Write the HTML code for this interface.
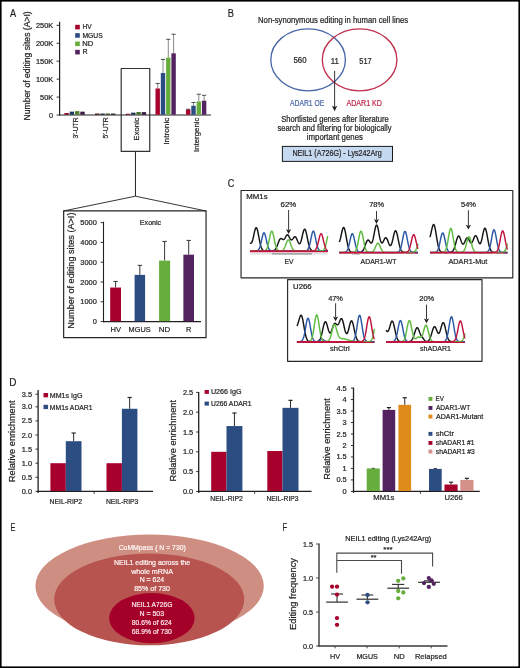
<!DOCTYPE html>
<html><head><meta charset="utf-8"><title>Figure</title>
<style>
html,body{margin:0;padding:0;background:#fff;}
body{width:520px;height:668px;overflow:hidden;}
svg{display:block;filter:blur(0.5px);}
text{font-family:"Liberation Sans", sans-serif;}
</style></head><body>
<svg width="520" height="668" viewBox="0 0 520 668">
<rect width="520" height="668" fill="#fff"/>
<text x="9.88" y="16.80" font-size="11.6" textLength="6.14" lengthAdjust="spacingAndGlyphs" fill="#231f20" stroke="#231f20" stroke-width="0.22">A</text>
<line x1="59.60" y1="21.80" x2="59.60" y2="115.55" stroke="#231f20" stroke-width="1.2"/>
<line x1="59.10" y1="115.05" x2="210.90" y2="115.05" stroke="#231f20" stroke-width="1.1"/>
<line x1="56.60" y1="115.05" x2="59.60" y2="115.05" stroke="#231f20" stroke-width="0.9"/>
<text x="53.20" y="117.65" font-size="7.4" text-anchor="end" fill="#231f20" stroke="#231f20" stroke-width="0.22">0</text>
<line x1="56.60" y1="97.10" x2="59.60" y2="97.10" stroke="#231f20" stroke-width="0.9"/>
<text x="53.20" y="99.70" font-size="7.4" text-anchor="end" fill="#231f20" stroke="#231f20" stroke-width="0.22">50K</text>
<line x1="56.60" y1="79.15" x2="59.60" y2="79.15" stroke="#231f20" stroke-width="0.9"/>
<text x="53.20" y="81.75" font-size="7.4" text-anchor="end" fill="#231f20" stroke="#231f20" stroke-width="0.22">100K</text>
<line x1="56.60" y1="61.20" x2="59.60" y2="61.20" stroke="#231f20" stroke-width="0.9"/>
<text x="53.20" y="63.80" font-size="7.4" text-anchor="end" fill="#231f20" stroke="#231f20" stroke-width="0.22">150K</text>
<line x1="56.60" y1="43.25" x2="59.60" y2="43.25" stroke="#231f20" stroke-width="0.9"/>
<text x="53.20" y="45.85" font-size="7.4" text-anchor="end" fill="#231f20" stroke="#231f20" stroke-width="0.22">200K</text>
<line x1="56.60" y1="25.30" x2="59.60" y2="25.30" stroke="#231f20" stroke-width="0.9"/>
<text x="53.20" y="27.90" font-size="7.4" text-anchor="end" fill="#231f20" stroke="#231f20" stroke-width="0.22">250K</text>
<text x="30.00" y="120.51" font-size="8.6" textLength="109.24" lengthAdjust="spacingAndGlyphs" fill="#231f20" stroke="#231f20" stroke-width="0.22" transform="rotate(-90 30.00 120.51)">Number of editing sites (A&gt;I)</text>
<rect x="75.20" y="24.80" width="4.60" height="4.60" fill="#a8002c"/>
<text x="82.46" y="28.90" font-size="7.2" textLength="9.17" lengthAdjust="spacingAndGlyphs" fill="#231f20" stroke="#231f20" stroke-width="0.22">HV</text>
<rect x="75.20" y="33.15" width="4.60" height="4.60" fill="#2c4d82"/>
<text x="82.45" y="37.55" font-size="7.2" textLength="20.26" lengthAdjust="spacingAndGlyphs" fill="#231f20" stroke="#231f20" stroke-width="0.22">MGUS</text>
<rect x="75.20" y="41.50" width="4.60" height="4.60" fill="#66ad3e"/>
<text x="82.38" y="45.90" font-size="7.2" textLength="10.99" lengthAdjust="spacingAndGlyphs" fill="#231f20" stroke="#231f20" stroke-width="0.22">ND</text>
<rect x="75.20" y="49.85" width="4.60" height="4.60" fill="#52235f"/>
<text x="82.42" y="54.25" font-size="7.2" textLength="5.11" lengthAdjust="spacingAndGlyphs" fill="#231f20" stroke="#231f20" stroke-width="0.22">R</text>
<rect x="64.40" y="113.05" width="4.40" height="1.70" fill="#7e0021"/>
<rect x="69.70" y="111.65" width="4.40" height="3.10" fill="#213961"/>
<rect x="75.00" y="111.15" width="4.40" height="3.60" fill="#4c812e"/>
<rect x="80.30" y="111.65" width="4.40" height="3.10" fill="#3d1a47"/>
<rect x="95.00" y="113.55" width="4.40" height="1.20" fill="#430011"/>
<rect x="100.30" y="113.55" width="4.40" height="1.20" fill="#111e34"/>
<rect x="105.60" y="113.55" width="4.40" height="1.20" fill="#284518"/>
<rect x="110.90" y="113.55" width="4.40" height="1.20" fill="#200e26"/>
<rect x="125.80" y="113.75" width="4.40" height="1.00" fill="#6d001c"/>
<rect x="131.10" y="112.65" width="4.40" height="2.10" fill="#1c3254"/>
<rect x="136.40" y="112.05" width="4.40" height="2.70" fill="#427028"/>
<rect x="141.70" y="112.15" width="4.40" height="2.60" fill="#35163d"/>
<line x1="157.70" y1="88.48" x2="157.70" y2="83.46" stroke="#7a7a7a" stroke-width="0.9"/>
<line x1="155.60" y1="83.46" x2="159.80" y2="83.46" stroke="#3a3a3a" stroke-width="0.9"/>
<rect x="155.50" y="88.48" width="4.40" height="26.27" fill="#a8002c"/>
<line x1="163.00" y1="73.05" x2="163.00" y2="59.41" stroke="#7a7a7a" stroke-width="0.9"/>
<line x1="160.90" y1="59.41" x2="165.10" y2="59.41" stroke="#3a3a3a" stroke-width="0.9"/>
<rect x="160.80" y="73.05" width="4.40" height="41.70" fill="#2c4d82"/>
<line x1="168.30" y1="57.61" x2="168.30" y2="39.30" stroke="#7a7a7a" stroke-width="0.9"/>
<line x1="166.20" y1="39.30" x2="170.40" y2="39.30" stroke="#3a3a3a" stroke-width="0.9"/>
<rect x="166.10" y="57.61" width="4.40" height="57.14" fill="#66ad3e"/>
<line x1="173.60" y1="53.30" x2="173.60" y2="34.28" stroke="#7a7a7a" stroke-width="0.9"/>
<line x1="171.50" y1="34.28" x2="175.70" y2="34.28" stroke="#3a3a3a" stroke-width="0.9"/>
<rect x="171.40" y="53.30" width="4.40" height="61.45" fill="#52235f"/>
<line x1="188.20" y1="109.66" x2="188.20" y2="109.31" stroke="#7a7a7a" stroke-width="0.9"/>
<line x1="186.10" y1="109.31" x2="190.30" y2="109.31" stroke="#3a3a3a" stroke-width="0.9"/>
<rect x="186.00" y="109.66" width="4.40" height="5.09" fill="#a8002c"/>
<line x1="193.50" y1="105.72" x2="193.50" y2="102.48" stroke="#7a7a7a" stroke-width="0.9"/>
<line x1="191.40" y1="102.48" x2="195.60" y2="102.48" stroke="#3a3a3a" stroke-width="0.9"/>
<rect x="191.30" y="105.72" width="4.40" height="9.03" fill="#2c4d82"/>
<line x1="198.80" y1="101.41" x2="198.80" y2="94.23" stroke="#7a7a7a" stroke-width="0.9"/>
<line x1="196.70" y1="94.23" x2="200.90" y2="94.23" stroke="#3a3a3a" stroke-width="0.9"/>
<rect x="196.60" y="101.41" width="4.40" height="13.34" fill="#66ad3e"/>
<line x1="204.10" y1="100.69" x2="204.10" y2="95.30" stroke="#7a7a7a" stroke-width="0.9"/>
<line x1="202.00" y1="95.30" x2="206.20" y2="95.30" stroke="#3a3a3a" stroke-width="0.9"/>
<rect x="201.90" y="100.69" width="4.40" height="14.06" fill="#52235f"/>
<text x="78.20" y="138.56" font-size="7.8" textLength="21.07" lengthAdjust="spacingAndGlyphs" fill="#231f20" stroke="#231f20" stroke-width="0.22" transform="rotate(-90 78.20 138.56)">3′-UTR</text>
<text x="108.30" y="138.57" font-size="7.8" textLength="21.08" lengthAdjust="spacingAndGlyphs" fill="#231f20" stroke="#231f20" stroke-width="0.22" transform="rotate(-90 108.30 138.57)">5′-UTR</text>
<text x="139.00" y="140.42" font-size="7.8" textLength="22.82" lengthAdjust="spacingAndGlyphs" fill="#231f20" stroke="#231f20" stroke-width="0.22" transform="rotate(-90 139.00 140.42)">Exonic</text>
<text x="169.00" y="144.76" font-size="7.8" textLength="27.18" lengthAdjust="spacingAndGlyphs" fill="#231f20" stroke="#231f20" stroke-width="0.22" transform="rotate(-90 169.00 144.76)">Intronic</text>
<text x="199.50" y="152.02" font-size="7.8" textLength="34.43" lengthAdjust="spacingAndGlyphs" fill="#231f20" stroke="#231f20" stroke-width="0.22" transform="rotate(-90 199.50 152.02)">Intergenic</text>
<line x1="135.45" y1="151.40" x2="135.45" y2="196.20" stroke="#231f20" stroke-width="1.0"/>
<polyline points="63.3,211 135.45,196.2 206.1,211" fill="none" stroke="#231f20" stroke-width="0.9"/>
<path d="M63.65,210.95 H206.05 V337.70 H63.65 Z" fill="none" stroke="#262626" stroke-width="1.2" stroke-linejoin="round"/>
<path d="M121.20,68.50 H149.75 V151.40 H121.20 Z" fill="none" stroke="#333" stroke-width="1.2" stroke-linejoin="round"/>
<line x1="103.50" y1="221.80" x2="103.50" y2="322.10" stroke="#231f20" stroke-width="1.1"/>
<line x1="103.00" y1="321.60" x2="201.00" y2="321.60" stroke="#231f20" stroke-width="1.1"/>
<line x1="100.60" y1="321.60" x2="103.50" y2="321.60" stroke="#231f20" stroke-width="0.9"/>
<text x="96.80" y="324.10" font-size="7.4" text-anchor="end" fill="#231f20" stroke="#231f20" stroke-width="0.22">0</text>
<line x1="100.60" y1="301.80" x2="103.50" y2="301.80" stroke="#231f20" stroke-width="0.9"/>
<text x="96.80" y="304.30" font-size="7.4" text-anchor="end" fill="#231f20" stroke="#231f20" stroke-width="0.22">1000</text>
<line x1="100.60" y1="282.00" x2="103.50" y2="282.00" stroke="#231f20" stroke-width="0.9"/>
<text x="96.80" y="284.50" font-size="7.4" text-anchor="end" fill="#231f20" stroke="#231f20" stroke-width="0.22">2000</text>
<line x1="100.60" y1="262.20" x2="103.50" y2="262.20" stroke="#231f20" stroke-width="0.9"/>
<text x="96.80" y="264.70" font-size="7.4" text-anchor="end" fill="#231f20" stroke="#231f20" stroke-width="0.22">3000</text>
<line x1="100.60" y1="242.40" x2="103.50" y2="242.40" stroke="#231f20" stroke-width="0.9"/>
<text x="96.80" y="244.90" font-size="7.4" text-anchor="end" fill="#231f20" stroke="#231f20" stroke-width="0.22">4000</text>
<line x1="100.60" y1="222.60" x2="103.50" y2="222.60" stroke="#231f20" stroke-width="0.9"/>
<text x="96.80" y="225.10" font-size="7.4" text-anchor="end" fill="#231f20" stroke="#231f20" stroke-width="0.22">5000</text>
<text x="74.00" y="328.65" font-size="8.7" textLength="116.12" lengthAdjust="spacingAndGlyphs" fill="#231f20" stroke="#231f20" stroke-width="0.22" transform="rotate(-90 74.00 328.65)">Number of editing sites (A&gt;I)</text>
<text x="139.87" y="224.60" font-size="7.2" textLength="21.27" lengthAdjust="spacingAndGlyphs" fill="#231f20" stroke="#231f20" stroke-width="0.22">Exonic</text>
<line x1="115.60" y1="287.54" x2="115.60" y2="281.41" stroke="#231f20" stroke-width="0.9"/>
<line x1="113.40" y1="281.41" x2="117.80" y2="281.41" stroke="#231f20" stroke-width="0.9"/>
<rect x="110.20" y="287.54" width="10.80" height="33.66" fill="#a8002c"/>
<line x1="139.85" y1="274.87" x2="139.85" y2="265.37" stroke="#231f20" stroke-width="0.9"/>
<line x1="137.65" y1="265.37" x2="142.05" y2="265.37" stroke="#231f20" stroke-width="0.9"/>
<rect x="134.60" y="274.87" width="10.50" height="46.33" fill="#2c4d82"/>
<line x1="164.60" y1="260.62" x2="164.60" y2="241.41" stroke="#231f20" stroke-width="0.9"/>
<line x1="162.40" y1="241.41" x2="166.80" y2="241.41" stroke="#231f20" stroke-width="0.9"/>
<rect x="159.10" y="260.62" width="11.00" height="60.58" fill="#66ad3e"/>
<line x1="188.70" y1="254.68" x2="188.70" y2="240.42" stroke="#231f20" stroke-width="0.9"/>
<line x1="186.50" y1="240.42" x2="190.90" y2="240.42" stroke="#231f20" stroke-width="0.9"/>
<rect x="183.40" y="254.68" width="10.60" height="66.52" fill="#52235f"/>
<text x="110.48" y="331.50" font-size="7.8" textLength="10.45" lengthAdjust="spacingAndGlyphs" fill="#231f20" stroke="#231f20" stroke-width="0.22">HV</text>
<text x="128.60" y="331.50" font-size="7.8" textLength="22.04" lengthAdjust="spacingAndGlyphs" fill="#231f20" stroke="#231f20" stroke-width="0.22">MGUS</text>
<text x="158.85" y="331.50" font-size="7.8" textLength="11.43" lengthAdjust="spacingAndGlyphs" fill="#231f20" stroke="#231f20" stroke-width="0.22">ND</text>
<text x="186.09" y="331.50" font-size="7.8" textLength="5.35" lengthAdjust="spacingAndGlyphs" fill="#231f20" stroke="#231f20" stroke-width="0.22">R</text>
<text x="227.69" y="16.70" font-size="11.6" textLength="6.14" lengthAdjust="spacingAndGlyphs" fill="#231f20" stroke="#231f20" stroke-width="0.22">B</text>
<text x="258.07" y="23.00" font-size="8.2" textLength="150.11" lengthAdjust="spacingAndGlyphs" fill="#231f20" stroke="#231f20" stroke-width="0.22">Non-synonymous editing in human cell lines</text>
<ellipse cx="308.1" cy="59.8" rx="37.3" ry="31.0" fill="none" stroke="#4a68a8" stroke-width="1.35"/>
<ellipse cx="359.6" cy="59.8" rx="37.3" ry="31.0" fill="none" stroke="#c0304f" stroke-width="1.35"/>
<text x="293.49" y="62.70" font-size="8.4" textLength="13.02" lengthAdjust="spacingAndGlyphs" fill="#231f20" stroke="#231f20" stroke-width="0.22">560</text>
<text x="330.64" y="63.80" font-size="8.4" textLength="8.22" lengthAdjust="spacingAndGlyphs" fill="#231f20" stroke="#231f20" stroke-width="0.22">11</text>
<text x="359.30" y="63.80" font-size="8.4" textLength="12.37" lengthAdjust="spacingAndGlyphs" fill="#231f20" stroke="#231f20" stroke-width="0.22">517</text>
<line x1="334.60" y1="70.80" x2="334.60" y2="107.00" stroke="#231f20" stroke-width="0.9"/>
<path d="M331.9,105.8 L334.6,107.0 L337.3,105.8 L334.6,111.3 Z" fill="#231f20"/>
<text x="289.99" y="106.40" font-size="8.5" textLength="34.20" lengthAdjust="spacingAndGlyphs" fill="#4a68a8" stroke="#4a68a8" stroke-width="0.22">ADAR1 OE</text>
<text x="346.49" y="106.40" font-size="8.5" textLength="35.45" lengthAdjust="spacingAndGlyphs" fill="#c0284c" stroke="#c0284c" stroke-width="0.22">ADAR1 KD</text>
<text x="281.16" y="121.50" font-size="8.3" textLength="107.68" lengthAdjust="spacingAndGlyphs" fill="#231f20" stroke="#231f20" stroke-width="0.22">Shortlisted genes after literature</text>
<text x="277.59" y="130.60" font-size="8.3" textLength="113.93" lengthAdjust="spacingAndGlyphs" fill="#231f20" stroke="#231f20" stroke-width="0.22">search and filtering for biologically</text>
<text x="306.78" y="139.50" font-size="8.3" textLength="56.21" lengthAdjust="spacingAndGlyphs" fill="#231f20" stroke="#231f20" stroke-width="0.22">important genes</text>
<rect x="282.40" y="146.40" width="110.10" height="15.00" fill="#c5d9f1" stroke="#1a1a1a" stroke-width="1.0"/>
<text x="292.41" y="156.40" font-size="8.6" textLength="89.25" lengthAdjust="spacingAndGlyphs" fill="#231f20" stroke="#231f20" stroke-width="0.22">NEIL1 (A726G) - Lys242Arg</text>
<text x="227.64" y="187.10" font-size="11.6" textLength="6.50" lengthAdjust="spacingAndGlyphs" fill="#231f20" stroke="#231f20" stroke-width="0.22">C</text>
<path d="M241.05,190.45 H512.80 V277.80 H241.05 Z" fill="none" stroke="#262626" stroke-width="1.15" stroke-linejoin="round"/>
<text x="246.36" y="199.40" font-size="7.2" textLength="21.22" lengthAdjust="spacingAndGlyphs" fill="#231f20" stroke="#231f20" stroke-width="0.22">MM1s</text>
<path d="M287.60,279.60 H482.00 V361.30 H287.60 Z" fill="none" stroke="#262626" stroke-width="1.15" stroke-linejoin="round"/>
<text x="293.10" y="289.20" font-size="7.2" textLength="18.54" lengthAdjust="spacingAndGlyphs" fill="#231f20" stroke="#231f20" stroke-width="0.22">U266</text>
<line x1="250.00" y1="253.90" x2="327.70" y2="253.90" stroke="#cfd3d3" stroke-width="1.0"/>
<line x1="271.90" y1="253.90" x2="312.00" y2="253.90" stroke="#8c9090" stroke-width="1.4"/>
<polyline points="250.0,242.95 250.4,243.19 250.8,243.26 251.2,243.12 251.6,242.69 252.0,241.94 252.4,240.87 252.8,239.49 253.2,237.86 253.6,236.05 254.0,234.16 254.4,232.31 254.8,230.62 255.2,229.23 255.6,228.23 256.0,227.70 256.4,227.70 256.8,228.23 257.2,229.26 257.6,230.71 258.0,232.51 258.4,234.54 258.8,236.68 259.2,238.84 259.6,240.91 260.0,242.82 260.4,244.52 260.8,245.99 261.2,247.21 261.6,248.21 262.0,248.99 262.4,249.58 262.8,250.03 263.1,250.35 263.5,250.57 263.9,250.72 264.3,250.83 264.7,250.89 265.1,250.94 265.5,250.96 265.9,250.98 266.3,250.99 266.7,250.99 267.1,251.00 267.5,251.00 267.9,251.00 268.3,251.00 268.7,251.00 269.1,251.00 269.5,251.00 269.9,250.99 270.3,250.99 270.7,250.98 271.1,250.98 271.5,250.96 271.9,250.94 272.3,250.91 272.7,250.85 273.1,250.78 273.5,250.66 273.9,250.51 274.3,250.29 274.7,249.99 275.1,249.61 275.5,249.12 275.9,248.51 276.3,247.78 276.7,246.94 277.1,245.98 277.5,244.94 277.9,243.84 278.3,242.74 278.7,241.67 279.1,240.70 279.5,239.87 279.9,239.22 280.3,238.78 280.7,238.54 281.1,238.51 281.5,238.63 281.9,238.87 282.3,239.15 282.7,239.41 283.1,239.58 283.5,239.61 283.9,239.47 284.3,239.13 284.7,238.62 285.1,237.97 285.5,237.24 285.9,236.50 286.3,235.82 286.7,235.27 287.1,234.92 287.5,234.79 287.9,234.92 288.3,235.28 288.7,235.84 289.0,236.55 289.4,237.33 289.8,238.12 290.2,238.83 290.6,239.39 291.0,239.77 291.4,239.93 291.8,239.87 292.2,239.60 292.6,239.17 293.0,238.62 293.4,238.04 293.8,237.49 294.2,237.04 294.6,236.75 295.0,236.68 295.4,236.84 295.8,237.24 296.2,237.86 296.6,238.67 297.0,239.59 297.4,240.58 297.8,241.54 298.2,242.41 298.6,243.12 299.0,243.59 299.4,243.79 299.8,243.66 300.2,243.19 300.6,242.38 301.0,241.25 301.4,239.84 301.8,238.21 302.2,236.45 302.6,234.67 303.0,232.97 303.4,231.47 303.8,230.29 304.2,229.50 304.6,229.17 305.0,229.33 305.4,229.98 305.8,231.07 306.2,232.54 306.6,234.30 307.0,236.23 307.4,238.24 307.8,240.23 308.2,242.12 308.6,243.85 309.0,245.37 309.4,246.67 309.8,247.75 310.2,248.61 310.6,249.29 311.0,249.80 311.4,250.18 311.8,250.45 312.2,250.64 312.6,250.77 313.0,250.85 313.4,250.91 313.8,250.95 314.2,250.97 314.6,250.98 314.9,250.99 315.3,250.99 315.7,251.00 316.1,251.00 316.5,251.00 316.9,251.00 317.3,251.00 317.7,251.00 318.1,251.00 318.5,251.00 318.9,251.00 319.3,251.00 319.7,251.00 320.1,251.00 320.5,251.00 320.9,251.00 321.3,251.00 321.7,251.00 322.1,251.00 322.5,251.00 322.9,251.00 323.3,251.00 323.7,251.00 324.1,251.00 324.5,251.00 324.9,251.00 325.3,251.00 325.7,251.00 326.1,251.00 326.5,251.00 326.9,251.00 327.3,251.00 327.7,251.00" fill="none" stroke="#141414" stroke-width="1.45" stroke-linejoin="round"/>
<polyline points="250.0,251.00 250.4,251.00 250.8,251.00 251.2,251.00 251.6,251.00 252.0,251.00 252.4,251.00 252.8,251.00 253.2,251.00 253.6,251.00 254.0,251.00 254.4,250.99 254.8,250.99 255.2,250.98 255.6,250.96 256.0,250.93 256.4,250.88 256.8,250.80 257.2,250.68 257.6,250.50 258.0,250.23 258.4,249.84 258.8,249.31 259.2,248.61 259.6,247.70 260.0,246.58 260.4,245.24 260.8,243.69 261.2,241.98 261.6,240.17 262.0,238.35 262.4,236.62 262.8,235.11 263.1,233.91 263.5,233.12 263.9,232.80 264.3,232.99 264.7,233.65 265.1,234.75 265.5,236.19 265.9,237.87 266.3,239.67 266.7,241.49 267.1,243.24 267.5,244.84 267.9,246.24 268.3,247.42 268.7,248.39 269.1,249.14 269.5,249.71 269.9,250.13 270.3,250.43 270.7,250.64 271.1,250.78 271.5,250.87 271.9,250.92 272.3,250.95 272.7,250.97 273.1,250.99 273.5,250.99 273.9,251.00 274.3,251.00 274.7,251.00 275.1,251.00 275.5,251.00 275.9,251.00 276.3,251.00 276.7,251.00 277.1,251.00 277.5,251.00 277.9,251.00 278.3,251.00 278.7,251.00 279.1,251.00 279.5,251.00 279.9,251.00 280.3,251.00 280.7,251.00 281.1,251.00 281.5,251.00 281.9,251.00 282.3,251.00 282.7,251.00 283.1,251.00 283.5,251.00 283.9,251.00 284.3,251.00 284.7,251.00 285.1,251.00 285.5,251.00 285.9,251.00 286.3,251.00 286.7,251.00 287.1,251.00 287.5,251.00 287.9,251.00 288.3,251.00 288.7,251.00 289.0,251.00 289.4,251.00 289.8,251.00 290.2,251.00 290.6,251.00 291.0,251.00 291.4,251.00 291.8,251.00 292.2,251.00 292.6,251.00 293.0,251.00 293.4,251.00 293.8,251.00 294.2,251.00 294.6,251.00 295.0,251.00 295.4,251.00 295.8,251.00 296.2,251.00 296.6,251.00 297.0,251.00 297.4,251.00 297.8,251.00 298.2,251.00 298.6,251.00 299.0,251.00 299.4,251.00 299.8,251.00 300.2,251.00 300.6,251.00 301.0,251.00 301.4,251.00 301.8,251.00 302.2,251.00 302.6,251.00 303.0,251.00 303.4,251.00 303.8,250.99 304.2,250.99 304.6,250.97 305.0,250.95 305.4,250.91 305.8,250.85 306.2,250.75 306.6,250.60 307.0,250.38 307.4,250.05 307.8,249.59 308.2,248.96 308.6,248.14 309.0,247.08 309.4,245.79 309.8,244.26 310.2,242.51 310.6,240.60 311.0,238.61 311.4,236.63 311.8,234.80 312.2,233.22 312.6,232.03 313.0,231.30 313.4,231.11 313.8,231.45 314.2,232.32 314.6,233.63 314.9,235.29 315.3,237.17 315.7,239.16 316.1,241.14 316.5,243.01 316.9,244.71 317.3,246.17 317.7,247.40 318.1,248.39 318.5,249.16 318.9,249.73 319.3,250.15 319.7,250.45 320.1,250.65 320.5,250.79 320.9,250.87 321.3,250.93 321.7,250.96 322.1,250.98 322.5,250.99 322.9,250.99 323.3,251.00 323.7,251.00 324.1,251.00 324.5,251.00 324.9,251.00 325.3,251.00 325.7,251.00 326.1,251.00 326.5,251.00 326.9,251.00 327.3,251.00 327.7,251.00" fill="none" stroke="#2b58a6" stroke-width="1.45" stroke-linejoin="round"/>
<polyline points="250.0,251.00 250.4,251.00 250.8,251.00 251.2,251.00 251.6,251.00 252.0,251.00 252.4,251.00 252.8,251.00 253.2,251.00 253.6,251.00 254.0,251.00 254.4,251.00 254.8,251.00 255.2,251.00 255.6,251.00 256.0,251.00 256.4,251.00 256.8,251.00 257.2,251.00 257.6,251.00 258.0,251.00 258.4,251.00 258.8,251.00 259.2,251.00 259.6,251.00 260.0,251.00 260.4,251.00 260.8,251.00 261.2,251.00 261.6,251.00 262.0,251.00 262.4,250.99 262.8,250.98 263.1,250.97 263.5,250.95 263.9,250.91 264.3,250.84 264.7,250.74 265.1,250.58 265.5,250.34 265.9,249.99 266.3,249.51 266.7,248.85 267.1,247.99 267.5,246.91 267.9,245.57 268.3,244.01 268.7,242.23 269.1,240.30 269.5,238.30 269.9,236.34 270.3,234.54 270.7,233.02 271.1,231.89 271.5,231.24 271.9,231.12 272.3,231.55 272.7,232.49 273.1,233.86 273.5,235.56 273.9,237.47 274.3,239.46 274.7,241.43 275.1,243.28 275.5,244.94 275.9,246.37 276.3,247.56 276.7,248.52 277.1,249.26 277.5,249.81 277.9,250.21 278.3,250.48 278.7,250.67 279.1,250.79 279.5,250.87 279.9,250.91 280.3,250.92 280.7,250.91 281.1,250.87 281.5,250.80 281.9,250.69 282.3,250.52 282.7,250.28 283.1,249.96 283.5,249.52 283.9,248.96 284.3,248.27 284.7,247.44 285.1,246.49 285.5,245.43 285.9,244.32 286.3,243.20 286.7,242.14 287.1,241.21 287.5,240.47 287.9,239.99 288.3,239.80 288.7,239.92 289.0,240.33 289.4,241.01 289.8,241.90 290.2,242.93 290.6,244.05 291.0,245.17 291.4,246.24 291.8,247.22 292.2,248.08 292.6,248.81 293.0,249.40 293.4,249.86 293.8,250.21 294.2,250.47 294.6,250.65 295.0,250.78 295.4,250.86 295.8,250.92 296.2,250.95 296.6,250.97 297.0,250.98 297.4,250.99 297.8,251.00 298.2,251.00 298.6,251.00 299.0,251.00 299.4,251.00 299.8,251.00 300.2,251.00 300.6,251.00 301.0,251.00 301.4,251.00 301.8,251.00 302.2,251.00 302.6,251.00 303.0,251.00 303.4,251.00 303.8,251.00 304.2,251.00 304.6,251.00 305.0,251.00 305.4,251.00 305.8,251.00 306.2,251.00 306.6,251.00 307.0,251.00 307.4,251.00 307.8,251.00 308.2,251.00 308.6,251.00 309.0,251.00 309.4,251.00 309.8,251.00 310.2,251.00 310.6,251.00 311.0,251.00 311.4,251.00 311.8,251.00 312.2,251.00 312.6,251.00 313.0,251.00 313.4,251.00 313.8,251.00 314.2,251.00 314.6,251.00 314.9,251.00 315.3,251.00 315.7,251.00 316.1,251.00 316.5,251.00 316.9,251.00 317.3,251.00 317.7,251.00 318.1,251.00 318.5,251.00 318.9,251.00 319.3,251.00 319.7,250.99 320.1,250.99 320.5,250.98 320.9,250.97 321.3,250.94 321.7,250.90 322.1,250.82 322.5,250.71 322.9,250.53 323.3,250.28 323.7,249.90 324.1,249.39 324.5,248.69 324.9,247.79 325.3,246.65 325.7,245.26 326.1,243.64 326.5,241.82 326.9,239.86 327.3,237.85 327.7,235.90" fill="none" stroke="#5dbb3f" stroke-width="1.45" stroke-linejoin="round"/>
<polyline points="250.0,251.00 250.4,251.00 250.8,251.00 251.2,251.00 251.6,251.00 252.0,251.00 252.4,251.00 252.8,251.00 253.2,251.00 253.6,251.00 254.0,251.00 254.4,251.00 254.8,251.00 255.2,251.00 255.6,251.00 256.0,251.00 256.4,251.00 256.8,251.00 257.2,251.00 257.6,251.00 258.0,251.00 258.4,251.00 258.8,251.00 259.2,251.00 259.6,251.00 260.0,251.00 260.4,251.00 260.8,251.00 261.2,251.00 261.6,251.00 262.0,251.00 262.4,251.00 262.8,251.00 263.1,251.00 263.5,251.00 263.9,251.00 264.3,251.00 264.7,251.00 265.1,251.00 265.5,251.00 265.9,251.00 266.3,251.00 266.7,251.00 267.1,251.00 267.5,251.00 267.9,251.00 268.3,251.00 268.7,251.00 269.1,251.00 269.5,251.00 269.9,251.00 270.3,251.00 270.7,251.00 271.1,251.00 271.5,251.00 271.9,251.00 272.3,251.00 272.7,251.00 273.1,251.00 273.5,251.00 273.9,251.00 274.3,251.00 274.7,251.00 275.1,251.00 275.5,251.00 275.9,251.00 276.3,251.00 276.7,251.00 277.1,251.00 277.5,251.00 277.9,251.00 278.3,251.00 278.7,251.00 279.1,251.00 279.5,251.00 279.9,251.00 280.3,251.00 280.7,251.00 281.1,251.00 281.5,251.00 281.9,251.00 282.3,251.00 282.7,251.00 283.1,251.00 283.5,251.00 283.9,251.00 284.3,251.00 284.7,251.00 285.1,251.00 285.5,251.00 285.9,251.00 286.3,251.00 286.7,251.00 287.1,251.00 287.5,251.00 287.9,251.00 288.3,251.00 288.7,251.00 289.0,251.00 289.4,251.00 289.8,251.00 290.2,251.00 290.6,251.00 291.0,251.00 291.4,251.00 291.8,251.00 292.2,251.00 292.6,251.00 293.0,251.00 293.4,251.00 293.8,251.00 294.2,251.00 294.6,251.00 295.0,251.00 295.4,251.00 295.8,251.00 296.2,251.00 296.6,251.00 297.0,251.00 297.4,251.00 297.8,251.00 298.2,251.00 298.6,251.00 299.0,251.00 299.4,251.00 299.8,251.00 300.2,251.00 300.6,251.00 301.0,251.00 301.4,251.00 301.8,251.00 302.2,251.00 302.6,251.00 303.0,251.00 303.4,251.00 303.8,251.00 304.2,251.00 304.6,251.00 305.0,251.00 305.4,251.00 305.8,251.00 306.2,251.00 306.6,251.00 307.0,251.00 307.4,251.00 307.8,251.00 308.2,251.00 308.6,251.00 309.0,251.00 309.4,251.00 309.8,251.00 310.2,251.00 310.6,251.00 311.0,251.00 311.4,251.00 311.8,250.99 312.2,250.98 312.6,250.97 313.0,250.95 313.4,250.91 313.8,250.84 314.2,250.74 314.6,250.58 314.9,250.35 315.3,250.02 315.7,249.56 316.1,248.95 316.5,248.15 316.9,247.14 317.3,245.93 317.7,244.51 318.1,242.93 318.5,241.23 318.9,239.49 319.3,237.81 319.7,236.30 320.1,235.06 320.5,234.18 320.9,233.75 321.3,233.78 321.7,234.27 322.1,235.20 322.5,236.48 322.9,238.02 323.3,239.71 323.7,241.45 324.1,243.14 324.5,244.70 324.9,246.10 325.3,247.28 325.7,248.26 326.1,249.04 326.5,249.63 326.9,250.07 327.3,250.39 327.7,250.61" fill="none" stroke="#c0143f" stroke-width="1.45" stroke-linejoin="round"/>
<line x1="250.00" y1="251.60" x2="327.70" y2="251.60" stroke="#c0143f" stroke-width="1.2"/>
<text x="280.60" y="206.50" font-size="7.6" textLength="15.68" lengthAdjust="spacingAndGlyphs" fill="#231f20" stroke="#231f20" stroke-width="0.22">62%</text>
<line x1="288.60" y1="210.00" x2="288.60" y2="230.00" stroke="#231f20" stroke-width="0.9"/>
<path d="M286.00,229.20 L288.60,230.30 L291.20,229.20 L288.60,234.00 Z" fill="#231f20"/>
<text x="284.44" y="264.20" font-size="7.8" textLength="9.09" lengthAdjust="spacingAndGlyphs" fill="#231f20" stroke="#231f20" stroke-width="0.22">EV</text>
<line x1="352.00" y1="254.30" x2="360.00" y2="254.30" stroke="#bfc3c3" stroke-width="1.0"/>
<polyline points="339.3,242.11 339.7,241.05 340.1,239.74 340.5,238.20 340.9,236.47 341.3,234.62 341.7,232.77 342.1,231.03 342.5,229.52 342.9,228.36 343.3,227.65 343.7,227.46 344.1,227.82 344.5,228.72 344.9,230.10 345.3,231.88 345.7,233.96 346.1,236.20 346.5,238.51 346.9,240.76 347.3,242.88 347.7,244.79 348.1,246.46 348.5,247.87 348.9,249.03 349.3,249.95 349.7,250.66 350.1,251.19 350.5,251.58 350.9,251.86 351.3,252.05 351.7,252.18 352.1,252.26 352.5,252.32 352.9,252.35 353.3,252.37 353.7,252.38 354.1,252.39 354.5,252.40 354.9,252.40 355.3,252.40 355.7,252.40 356.1,252.40 356.5,252.40 356.9,252.40 357.3,252.40 357.7,252.39 358.1,252.39 358.5,252.38 358.9,252.37 359.3,252.35 359.7,252.31 360.1,252.26 360.5,252.19 360.9,252.08 361.3,251.92 361.7,251.70 362.1,251.41 362.5,251.02 362.9,250.52 363.3,249.90 363.7,249.16 364.1,248.29 364.5,247.31 364.9,246.24 365.3,245.12 365.7,243.98 366.1,242.90 366.5,241.92 366.9,241.10 367.3,240.49 367.7,240.12 368.1,240.00 368.5,240.13 368.9,240.47 369.3,240.98 369.7,241.57 370.1,242.17 370.5,242.69 370.9,243.03 371.3,243.11 371.7,242.87 372.1,242.26 372.5,241.26 372.9,239.89 373.3,238.17 373.7,236.20 374.1,234.07 374.5,231.89 374.9,229.82 375.3,227.99 375.7,226.53 376.1,225.53 376.5,225.08 376.9,225.21 377.3,225.89 377.7,227.08 378.1,228.69 378.5,230.60 378.8,232.68 379.2,234.80 379.6,236.83 380.0,238.68 380.4,240.24 380.8,241.47 381.2,242.33 381.6,242.82 382.0,242.94 382.4,242.75 382.8,242.28 383.2,241.61 383.6,240.81 384.0,239.97 384.4,239.17 384.8,238.49 385.2,237.99 385.6,237.73 386.0,237.74 386.4,238.03 386.8,238.58 387.2,239.37 387.6,240.32 388.0,241.38 388.4,242.47 388.8,243.50 389.2,244.39 389.6,245.09 390.0,245.51 390.4,245.62 390.8,245.39 391.2,244.80 391.6,243.87 392.0,242.61 392.4,241.09 392.8,239.38 393.2,237.56 393.6,235.76 394.0,234.09 394.4,232.66 394.8,231.57 395.2,230.91 395.6,230.73 396.0,231.05 396.4,231.85 396.8,233.07 397.2,234.64 397.6,236.46 398.0,238.43 398.4,240.44 398.8,242.40 399.2,244.23 399.6,245.88 400.0,247.32 400.4,248.53 400.8,249.53 401.2,250.31 401.6,250.92 402.0,251.37 402.4,251.71 402.8,251.94 403.2,252.10 403.6,252.21 404.0,252.28 404.4,252.33 404.8,252.36 405.2,252.38 405.6,252.39 406.0,252.39 406.4,252.40 406.8,252.40 407.2,252.40 407.6,252.40 408.0,252.40 408.4,252.40 408.8,252.40 409.2,252.40 409.6,252.40 410.0,252.40 410.4,252.40 410.8,252.40 411.2,252.40 411.6,252.40 412.0,252.40 412.4,252.40 412.8,252.40 413.2,252.40 413.6,252.40 414.0,252.40 414.4,252.40 414.8,252.40 415.2,252.40 415.6,252.40 416.0,252.40 416.4,252.40 416.8,252.40 417.2,252.40 417.6,252.40 418.0,252.40" fill="none" stroke="#141414" stroke-width="1.45" stroke-linejoin="round"/>
<polyline points="339.3,252.40 339.7,252.40 340.1,252.40 340.5,252.40 340.9,252.40 341.3,252.40 341.7,252.40 342.1,252.40 342.5,252.40 342.9,252.39 343.3,252.38 343.7,252.37 344.1,252.35 344.5,252.31 344.9,252.24 345.3,252.14 345.7,251.98 346.1,251.74 346.5,251.40 346.9,250.93 347.3,250.28 347.7,249.45 348.1,248.39 348.5,247.10 348.9,245.59 349.3,243.90 349.7,242.06 350.1,240.18 350.5,238.35 350.9,236.68 351.3,235.30 351.7,234.31 352.1,233.78 352.5,233.75 352.9,234.24 353.3,235.20 353.7,236.56 354.1,238.20 354.5,240.02 354.9,241.91 355.3,243.75 355.7,245.46 356.1,246.99 356.5,248.29 356.9,249.37 357.3,250.22 357.7,250.88 358.1,251.37 358.5,251.72 358.9,251.96 359.3,252.13 359.7,252.23 360.1,252.30 360.5,252.34 360.9,252.37 361.3,252.38 361.7,252.39 362.1,252.40 362.5,252.40 362.9,252.40 363.3,252.40 363.7,252.40 364.1,252.40 364.5,252.40 364.9,252.40 365.3,252.40 365.7,252.40 366.1,252.40 366.5,252.40 366.9,252.40 367.3,252.40 367.7,252.40 368.1,252.40 368.5,252.40 368.9,252.40 369.3,252.40 369.7,252.40 370.1,252.40 370.5,252.40 370.9,252.40 371.3,252.40 371.7,252.40 372.1,252.40 372.5,252.40 372.9,252.40 373.3,252.40 373.7,252.40 374.1,252.40 374.5,252.40 374.9,252.40 375.3,252.40 375.7,252.40 376.1,252.40 376.5,252.40 376.9,252.40 377.3,252.40 377.7,252.40 378.1,252.40 378.5,252.40 378.8,252.40 379.2,252.40 379.6,252.40 380.0,252.40 380.4,252.40 380.8,252.40 381.2,252.40 381.6,252.40 382.0,252.40 382.4,252.40 382.8,252.40 383.2,252.40 383.6,252.40 384.0,252.40 384.4,252.40 384.8,252.40 385.2,252.40 385.6,252.40 386.0,252.40 386.4,252.40 386.8,252.40 387.2,252.40 387.6,252.40 388.0,252.40 388.4,252.40 388.8,252.40 389.2,252.40 389.6,252.40 390.0,252.40 390.4,252.40 390.8,252.40 391.2,252.40 391.6,252.40 392.0,252.40 392.4,252.40 392.8,252.40 393.2,252.40 393.6,252.40 394.0,252.40 394.4,252.40 394.8,252.40 395.2,252.39 395.6,252.39 396.0,252.38 396.4,252.36 396.8,252.34 397.2,252.29 397.6,252.21 398.0,252.09 398.4,251.91 398.8,251.63 399.2,251.24 399.6,250.69 400.0,249.95 400.4,248.99 400.8,247.79 401.2,246.32 401.6,244.61 402.0,242.68 402.4,240.62 402.8,238.50 403.2,236.46 403.6,234.61 404.0,233.09 404.4,232.01 404.8,231.46 405.2,231.49 405.6,232.08 406.0,233.20 406.4,234.75 406.8,236.62 407.2,238.68 407.6,240.79 408.0,242.85 408.4,244.76 408.8,246.45 409.2,247.90 409.6,249.08 410.0,250.02 410.4,250.74 410.8,251.28 411.2,251.66 411.6,251.93 412.0,252.10 412.4,252.22 412.8,252.29 413.2,252.34 413.6,252.37 414.0,252.38 414.4,252.39 414.8,252.40 415.2,252.40 415.6,252.40 416.0,252.40 416.4,252.40 416.8,252.40 417.2,252.40 417.6,252.40 418.0,252.40" fill="none" stroke="#2b58a6" stroke-width="1.45" stroke-linejoin="round"/>
<polyline points="339.3,252.40 339.7,252.40 340.1,252.40 340.5,252.40 340.9,252.40 341.3,252.40 341.7,252.40 342.1,252.40 342.5,252.40 342.9,252.40 343.3,252.40 343.7,252.40 344.1,252.40 344.5,252.40 344.9,252.40 345.3,252.40 345.7,252.40 346.1,252.40 346.5,252.40 346.9,252.40 347.3,252.40 347.7,252.40 348.1,252.40 348.5,252.40 348.9,252.40 349.3,252.40 349.7,252.40 350.1,252.40 350.5,252.40 350.9,252.40 351.3,252.39 351.7,252.39 352.1,252.38 352.5,252.36 352.9,252.33 353.3,252.28 353.7,252.20 354.1,252.07 354.5,251.87 354.9,251.57 355.3,251.16 355.7,250.58 356.1,249.80 356.5,248.79 356.9,247.53 357.3,246.00 357.7,244.23 358.1,242.26 358.5,240.15 358.9,238.01 359.3,235.95 359.7,234.11 360.1,232.63 360.5,231.61 360.9,231.13 361.3,231.24 361.7,231.92 362.1,233.12 362.5,234.75 362.9,236.68 363.3,238.78 363.7,240.92 364.1,242.99 364.5,244.90 364.9,246.59 365.3,248.01 365.7,249.18 366.1,250.10 366.5,250.81 366.9,251.32 367.3,251.69 367.7,251.95 368.1,252.12 368.5,252.23 368.9,252.29 369.3,252.33 369.7,252.34 370.1,252.34 370.5,252.32 370.9,252.27 371.3,252.20 371.7,252.09 372.1,251.92 372.5,251.70 372.9,251.39 373.3,250.98 373.7,250.47 374.1,249.85 374.5,249.12 374.9,248.29 375.3,247.39 375.7,246.46 376.1,245.56 376.5,244.73 376.9,244.04 377.3,243.53 377.7,243.25 378.1,243.22 378.5,243.44 378.8,243.89 379.2,244.54 379.6,245.34 380.0,246.24 380.4,247.16 380.8,248.07 381.2,248.92 381.6,249.68 382.0,250.33 382.4,250.87 382.8,251.30 383.2,251.63 383.6,251.88 384.0,252.05 384.4,252.18 384.8,252.26 385.2,252.31 385.6,252.35 386.0,252.37 386.4,252.38 386.8,252.39 387.2,252.40 387.6,252.40 388.0,252.40 388.4,252.40 388.8,252.40 389.2,252.40 389.6,252.40 390.0,252.40 390.4,252.40 390.8,252.40 391.2,252.40 391.6,252.40 392.0,252.40 392.4,252.40 392.8,252.40 393.2,252.40 393.6,252.40 394.0,252.40 394.4,252.40 394.8,252.40 395.2,252.40 395.6,252.40 396.0,252.40 396.4,252.40 396.8,252.40 397.2,252.40 397.6,252.40 398.0,252.40 398.4,252.40 398.8,252.40 399.2,252.40 399.6,252.40 400.0,252.40 400.4,252.40 400.8,252.40 401.2,252.40 401.6,252.40 402.0,252.40 402.4,252.40 402.8,252.40 403.2,252.40 403.6,252.40 404.0,252.40 404.4,252.40 404.8,252.40 405.2,252.40 405.6,252.40 406.0,252.40 406.4,252.40 406.8,252.40 407.2,252.40 407.6,252.40 408.0,252.40 408.4,252.40 408.8,252.40 409.2,252.40 409.6,252.40 410.0,252.40 410.4,252.40 410.8,252.40 411.2,252.39 411.6,252.38 412.0,252.37 412.4,252.35 412.8,252.31 413.2,252.25 413.6,252.16 414.0,252.01 414.4,251.80 414.8,251.50 415.2,251.09 415.6,250.53 416.0,249.81 416.4,248.91 416.8,247.82 417.2,246.57 417.6,245.17 418.0,243.68" fill="none" stroke="#5dbb3f" stroke-width="1.45" stroke-linejoin="round"/>
<polyline points="339.3,252.40 339.7,252.40 340.1,252.40 340.5,252.40 340.9,252.40 341.3,252.40 341.7,252.40 342.1,252.40 342.5,252.40 342.9,252.40 343.3,252.40 343.7,252.40 344.1,252.40 344.5,252.40 344.9,252.40 345.3,252.40 345.7,252.40 346.1,252.40 346.5,252.40 346.9,252.40 347.3,252.40 347.7,252.40 348.1,252.40 348.5,252.40 348.9,252.40 349.3,252.40 349.7,252.40 350.1,252.40 350.5,252.40 350.9,252.40 351.3,252.40 351.7,252.40 352.1,252.40 352.5,252.40 352.9,252.40 353.3,252.40 353.7,252.40 354.1,252.40 354.5,252.40 354.9,252.40 355.3,252.40 355.7,252.40 356.1,252.40 356.5,252.40 356.9,252.40 357.3,252.40 357.7,252.40 358.1,252.40 358.5,252.40 358.9,252.40 359.3,252.40 359.7,252.40 360.1,252.40 360.5,252.40 360.9,252.40 361.3,252.40 361.7,252.40 362.1,252.40 362.5,252.40 362.9,252.40 363.3,252.40 363.7,252.40 364.1,252.40 364.5,252.40 364.9,252.40 365.3,252.40 365.7,252.40 366.1,252.40 366.5,252.40 366.9,252.40 367.3,252.40 367.7,252.40 368.1,252.40 368.5,252.40 368.9,252.40 369.3,252.40 369.7,252.40 370.1,252.40 370.5,252.40 370.9,252.40 371.3,252.40 371.7,252.40 372.1,252.40 372.5,252.40 372.9,252.40 373.3,252.40 373.7,252.40 374.1,252.40 374.5,252.40 374.9,252.40 375.3,252.40 375.7,252.40 376.1,252.40 376.5,252.40 376.9,252.40 377.3,252.40 377.7,252.40 378.1,252.40 378.5,252.40 378.8,252.40 379.2,252.40 379.6,252.40 380.0,252.40 380.4,252.40 380.8,252.40 381.2,252.40 381.6,252.40 382.0,252.40 382.4,252.40 382.8,252.40 383.2,252.40 383.6,252.40 384.0,252.40 384.4,252.40 384.8,252.40 385.2,252.40 385.6,252.40 386.0,252.40 386.4,252.40 386.8,252.40 387.2,252.40 387.6,252.40 388.0,252.40 388.4,252.40 388.8,252.40 389.2,252.40 389.6,252.40 390.0,252.40 390.4,252.40 390.8,252.40 391.2,252.40 391.6,252.40 392.0,252.40 392.4,252.40 392.8,252.40 393.2,252.40 393.6,252.40 394.0,252.40 394.4,252.40 394.8,252.40 395.2,252.40 395.6,252.40 396.0,252.40 396.4,252.40 396.8,252.40 397.2,252.40 397.6,252.40 398.0,252.40 398.4,252.40 398.8,252.40 399.2,252.40 399.6,252.40 400.0,252.40 400.4,252.40 400.8,252.40 401.2,252.40 401.6,252.40 402.0,252.40 402.4,252.40 402.8,252.40 403.2,252.40 403.6,252.40 404.0,252.39 404.4,252.39 404.8,252.38 405.2,252.37 405.6,252.34 406.0,252.29 406.4,252.22 406.8,252.11 407.2,251.94 407.6,251.69 408.0,251.33 408.4,250.83 408.8,250.16 409.2,249.30 409.6,248.23 410.0,246.94 410.4,245.45 410.8,243.78 411.2,242.01 411.6,240.23 412.0,238.52 412.4,237.00 412.8,235.79 413.2,234.97 413.6,234.61 414.0,234.74 414.4,235.35 414.8,236.39 415.2,237.77 415.6,239.40 416.0,241.17 416.4,242.96 416.8,244.68 417.2,246.26 417.6,247.65 418.0,248.82" fill="none" stroke="#c0143f" stroke-width="1.45" stroke-linejoin="round"/>
<line x1="339.30" y1="253.00" x2="418.00" y2="253.00" stroke="#c0143f" stroke-width="1.2"/>
<text x="369.22" y="206.60" font-size="7.6" textLength="14.84" lengthAdjust="spacingAndGlyphs" fill="#231f20" stroke="#231f20" stroke-width="0.22">78%</text>
<line x1="376.50" y1="211.00" x2="376.50" y2="219.90" stroke="#231f20" stroke-width="0.9"/>
<path d="M373.90,219.10 L376.50,220.20 L379.10,219.10 L376.50,223.90 Z" fill="#231f20"/>
<text x="360.59" y="264.00" font-size="7.8" textLength="35.97" lengthAdjust="spacingAndGlyphs" fill="#231f20" stroke="#231f20" stroke-width="0.22">ADAR1-WT</text>
<polyline points="430.0,237.10 430.4,235.61 430.8,233.95 431.2,232.16 431.6,230.33 432.0,228.56 432.4,226.97 432.8,225.69 433.2,224.84 433.6,224.49 434.0,224.72 434.4,225.51 434.8,226.85 435.2,228.66 435.6,230.84 436.0,233.27 436.4,235.81 436.8,238.34 437.2,240.76 437.6,242.99 438.0,244.97 438.4,246.67 438.8,248.08 439.2,249.22 439.6,250.12 440.0,250.80 440.4,251.30 440.8,251.66 441.2,251.92 441.6,252.09 442.0,252.21 442.4,252.28 442.8,252.33 443.2,252.36 443.6,252.38 444.0,252.39 444.4,252.39 444.8,252.40 445.2,252.40 445.6,252.40 446.0,252.40 446.4,252.40 446.8,252.40 447.2,252.40 447.6,252.40 448.0,252.39 448.4,252.39 448.8,252.38 449.2,252.37 449.6,252.35 450.0,252.32 450.4,252.27 450.8,252.20 451.2,252.09 451.6,251.92 452.0,251.70 452.4,251.38 452.8,250.96 453.2,250.41 453.6,249.71 454.0,248.84 454.4,247.81 454.8,246.61 455.2,245.27 455.6,243.82 456.0,242.32 456.4,240.82 456.8,239.41 457.2,238.16 457.6,237.14 458.0,236.43 458.4,236.05 458.8,236.04 459.2,236.37 459.6,237.01 460.0,237.91 460.4,238.98 460.8,240.12 461.2,241.25 461.6,242.28 462.0,243.13 462.4,243.74 462.8,244.07 463.2,244.11 463.6,243.85 464.0,243.35 464.4,242.63 464.8,241.78 465.2,240.86 465.6,239.95 466.0,239.13 466.4,238.48 466.8,238.03 467.2,237.84 467.6,237.90 468.0,238.22 468.4,238.74 468.8,239.42 469.1,240.19 469.5,240.98 469.9,241.71 470.3,242.31 470.7,242.72 471.1,242.90 471.5,242.83 471.9,242.49 472.3,241.91 472.7,241.12 473.1,240.17 473.5,239.15 473.9,238.13 474.3,237.19 474.7,236.41 475.1,235.87 475.5,235.63 475.9,235.69 476.3,236.08 476.7,236.75 477.1,237.67 477.5,238.75 477.9,239.92 478.3,241.07 478.7,242.11 479.1,242.95 479.5,243.51 479.9,243.72 480.3,243.54 480.7,242.95 481.1,241.97 481.5,240.62 481.9,238.96 482.3,237.10 482.7,235.14 483.1,233.20 483.5,231.43 483.9,229.94 484.3,228.86 484.7,228.27 485.1,228.22 485.5,228.72 485.9,229.74 486.3,231.21 486.7,233.05 487.1,235.14 487.5,237.36 487.9,239.60 488.3,241.76 488.7,243.76 489.1,245.55 489.5,247.09 489.9,248.38 490.3,249.43 490.7,250.26 491.1,250.89 491.5,251.36 491.9,251.70 492.3,251.94 492.7,252.10 493.1,252.21 493.5,252.29 493.9,252.33 494.3,252.36 494.7,252.38 495.1,252.39 495.5,252.39 495.9,252.40 496.3,252.40 496.7,252.40 497.1,252.40 497.5,252.40 497.9,252.40 498.3,252.40 498.7,252.40 499.1,252.40 499.5,252.40 499.9,252.40 500.3,252.40 500.7,252.40 501.1,252.40 501.5,252.40 501.9,252.40 502.3,252.40 502.7,252.40 503.1,252.40 503.5,252.40 503.9,252.40 504.3,252.40 504.7,252.40 505.1,252.40 505.5,252.40 505.9,252.40 506.3,252.40 506.7,252.40 507.1,252.40 507.5,252.40" fill="none" stroke="#141414" stroke-width="1.45" stroke-linejoin="round"/>
<polyline points="430.0,252.40 430.4,252.40 430.8,252.40 431.2,252.40 431.6,252.40 432.0,252.40 432.4,252.40 432.8,252.40 433.2,252.39 433.6,252.39 434.0,252.37 434.4,252.35 434.8,252.31 435.2,252.25 435.6,252.16 436.0,252.01 436.4,251.78 436.8,251.46 437.2,251.00 437.6,250.38 438.0,249.56 438.4,248.51 438.8,247.23 439.2,245.72 439.6,243.99 440.0,242.11 440.4,240.15 440.8,238.21 441.2,236.42 441.6,234.89 442.0,233.75 442.4,233.07 442.8,232.91 443.2,233.29 443.6,234.17 444.0,235.49 444.4,237.14 444.8,239.01 445.2,240.97 445.6,242.91 446.0,244.73 446.4,246.38 446.8,247.80 447.2,248.98 447.6,249.93 448.0,250.66 448.4,251.21 448.8,251.61 449.2,251.89 449.6,252.08 450.0,252.20 450.4,252.28 450.8,252.33 451.2,252.36 451.6,252.38 452.0,252.39 452.4,252.39 452.8,252.40 453.2,252.40 453.6,252.40 454.0,252.40 454.4,252.40 454.8,252.40 455.2,252.40 455.6,252.40 456.0,252.40 456.4,252.40 456.8,252.40 457.2,252.40 457.6,252.40 458.0,252.40 458.4,252.40 458.8,252.40 459.2,252.40 459.6,252.40 460.0,252.40 460.4,252.40 460.8,252.40 461.2,252.40 461.6,252.40 462.0,252.40 462.4,252.40 462.8,252.40 463.2,252.40 463.6,252.40 464.0,252.40 464.4,252.40 464.8,252.40 465.2,252.40 465.6,252.40 466.0,252.40 466.4,252.40 466.8,252.40 467.2,252.40 467.6,252.40 468.0,252.40 468.4,252.40 468.8,252.40 469.1,252.40 469.5,252.40 469.9,252.40 470.3,252.40 470.7,252.40 471.1,252.40 471.5,252.40 471.9,252.40 472.3,252.40 472.7,252.40 473.1,252.40 473.5,252.40 473.9,252.40 474.3,252.40 474.7,252.40 475.1,252.40 475.5,252.40 475.9,252.40 476.3,252.40 476.7,252.40 477.1,252.40 477.5,252.40 477.9,252.40 478.3,252.40 478.7,252.40 479.1,252.40 479.5,252.40 479.9,252.40 480.3,252.40 480.7,252.40 481.1,252.40 481.5,252.40 481.9,252.40 482.3,252.40 482.7,252.40 483.1,252.40 483.5,252.40 483.9,252.40 484.3,252.39 484.7,252.39 485.1,252.38 485.5,252.36 485.9,252.32 486.3,252.26 486.7,252.17 487.1,252.03 487.5,251.81 487.9,251.48 488.3,251.02 488.7,250.38 489.1,249.53 489.5,248.43 489.9,247.06 490.3,245.41 490.7,243.51 491.1,241.39 491.5,239.15 491.9,236.88 492.3,234.71 492.7,232.80 493.1,231.27 493.5,230.25 493.9,229.81 494.3,230.00 494.7,230.79 495.1,232.12 495.5,233.88 495.9,235.96 496.3,238.20 496.7,240.48 497.1,242.66 497.5,244.66 497.9,246.42 498.3,247.90 498.7,249.11 499.1,250.06 499.5,250.78 499.9,251.31 500.3,251.69 500.7,251.95 501.1,252.12 501.5,252.23 501.9,252.30 502.3,252.34 502.7,252.37 503.1,252.38 503.5,252.39 503.9,252.40 504.3,252.40 504.7,252.40 505.1,252.40 505.5,252.40 505.9,252.40 506.3,252.40 506.7,252.40 507.1,252.40 507.5,252.40" fill="none" stroke="#2b58a6" stroke-width="1.45" stroke-linejoin="round"/>
<polyline points="430.0,252.40 430.4,252.40 430.8,252.40 431.2,252.40 431.6,252.40 432.0,252.40 432.4,252.40 432.8,252.40 433.2,252.40 433.6,252.40 434.0,252.40 434.4,252.40 434.8,252.40 435.2,252.40 435.6,252.40 436.0,252.40 436.4,252.40 436.8,252.40 437.2,252.40 437.6,252.40 438.0,252.40 438.4,252.40 438.8,252.40 439.2,252.40 439.6,252.40 440.0,252.40 440.4,252.40 440.8,252.40 441.2,252.39 441.6,252.38 442.0,252.37 442.4,252.35 442.8,252.31 443.2,252.24 443.6,252.14 444.0,251.98 444.4,251.73 444.8,251.37 445.2,250.85 445.6,250.15 446.0,249.21 446.4,248.00 446.8,246.51 447.2,244.72 447.6,242.66 448.0,240.38 448.4,237.99 448.8,235.58 449.2,233.31 449.6,231.33 450.0,229.78 450.4,228.78 450.8,228.40 451.2,228.69 451.6,229.61 452.0,231.10 452.4,233.03 452.8,235.27 453.2,237.66 453.6,240.07 454.0,242.36 454.4,244.45 454.8,246.28 455.2,247.82 455.6,249.06 456.0,250.03 456.4,250.77 456.8,251.31 457.2,251.69 457.6,251.95 458.0,252.12 458.4,252.23 458.8,252.30 459.2,252.34 459.6,252.36 460.0,252.37 460.4,252.37 460.8,252.35 461.2,252.32 461.6,252.27 462.0,252.19 462.4,252.06 462.8,251.87 463.2,251.59 463.6,251.20 464.0,250.67 464.4,249.99 464.8,249.11 465.2,248.05 465.6,246.80 466.0,245.38 466.4,243.85 466.8,242.27 467.2,240.73 467.6,239.31 468.0,238.13 468.4,237.26 468.8,236.78 469.1,236.73 469.5,237.11 469.9,237.88 470.3,238.99 470.7,240.36 471.1,241.88 471.5,243.46 471.9,245.01 472.3,246.46 472.7,247.75 473.1,248.86 473.5,249.78 473.9,250.52 474.3,251.08 474.7,251.50 475.1,251.81 475.5,252.02 475.9,252.16 476.3,252.25 476.7,252.31 477.1,252.35 477.5,252.37 477.9,252.38 478.3,252.39 478.7,252.40 479.1,252.40 479.5,252.40 479.9,252.40 480.3,252.40 480.7,252.40 481.1,252.40 481.5,252.40 481.9,252.40 482.3,252.40 482.7,252.40 483.1,252.40 483.5,252.40 483.9,252.40 484.3,252.40 484.7,252.40 485.1,252.40 485.5,252.40 485.9,252.40 486.3,252.40 486.7,252.40 487.1,252.40 487.5,252.40 487.9,252.40 488.3,252.40 488.7,252.40 489.1,252.40 489.5,252.40 489.9,252.40 490.3,252.40 490.7,252.40 491.1,252.40 491.5,252.40 491.9,252.40 492.3,252.40 492.7,252.40 493.1,252.40 493.5,252.40 493.9,252.40 494.3,252.40 494.7,252.40 495.1,252.40 495.5,252.40 495.9,252.40 496.3,252.40 496.7,252.40 497.1,252.40 497.5,252.40 497.9,252.40 498.3,252.40 498.7,252.40 499.1,252.40 499.5,252.40 499.9,252.40 500.3,252.40 500.7,252.39 501.1,252.38 501.5,252.37 501.9,252.35 502.3,252.31 502.7,252.25 503.1,252.16 503.5,252.01 503.9,251.80 504.3,251.50 504.7,251.09 505.1,250.53 505.5,249.81 505.9,248.91 506.3,247.82 506.7,246.57 507.1,245.17 507.5,243.68" fill="none" stroke="#5dbb3f" stroke-width="1.45" stroke-linejoin="round"/>
<polyline points="430.0,252.40 430.4,252.40 430.8,252.40 431.2,252.40 431.6,252.40 432.0,252.40 432.4,252.40 432.8,252.40 433.2,252.40 433.6,252.40 434.0,252.40 434.4,252.40 434.8,252.40 435.2,252.40 435.6,252.40 436.0,252.40 436.4,252.40 436.8,252.40 437.2,252.40 437.6,252.40 438.0,252.40 438.4,252.40 438.8,252.40 439.2,252.40 439.6,252.40 440.0,252.40 440.4,252.40 440.8,252.40 441.2,252.40 441.6,252.40 442.0,252.40 442.4,252.40 442.8,252.40 443.2,252.40 443.6,252.40 444.0,252.40 444.4,252.40 444.8,252.40 445.2,252.40 445.6,252.40 446.0,252.40 446.4,252.40 446.8,252.40 447.2,252.40 447.6,252.40 448.0,252.40 448.4,252.40 448.8,252.40 449.2,252.40 449.6,252.40 450.0,252.40 450.4,252.40 450.8,252.40 451.2,252.40 451.6,252.40 452.0,252.40 452.4,252.40 452.8,252.40 453.2,252.40 453.6,252.40 454.0,252.40 454.4,252.40 454.8,252.40 455.2,252.40 455.6,252.40 456.0,252.40 456.4,252.40 456.8,252.40 457.2,252.40 457.6,252.40 458.0,252.40 458.4,252.40 458.8,252.40 459.2,252.40 459.6,252.40 460.0,252.40 460.4,252.40 460.8,252.40 461.2,252.40 461.6,252.40 462.0,252.40 462.4,252.40 462.8,252.40 463.2,252.40 463.6,252.40 464.0,252.40 464.4,252.40 464.8,252.40 465.2,252.40 465.6,252.40 466.0,252.40 466.4,252.40 466.8,252.40 467.2,252.40 467.6,252.40 468.0,252.40 468.4,252.40 468.8,252.40 469.1,252.40 469.5,252.40 469.9,252.40 470.3,252.40 470.7,252.40 471.1,252.40 471.5,252.40 471.9,252.40 472.3,252.40 472.7,252.40 473.1,252.40 473.5,252.40 473.9,252.40 474.3,252.40 474.7,252.40 475.1,252.40 475.5,252.40 475.9,252.40 476.3,252.40 476.7,252.40 477.1,252.40 477.5,252.40 477.9,252.40 478.3,252.40 478.7,252.40 479.1,252.40 479.5,252.40 479.9,252.40 480.3,252.40 480.7,252.40 481.1,252.40 481.5,252.40 481.9,252.40 482.3,252.40 482.7,252.40 483.1,252.40 483.5,252.40 483.9,252.40 484.3,252.40 484.7,252.40 485.1,252.40 485.5,252.40 485.9,252.40 486.3,252.40 486.7,252.40 487.1,252.40 487.5,252.40 487.9,252.40 488.3,252.40 488.7,252.40 489.1,252.40 489.5,252.40 489.9,252.40 490.3,252.40 490.7,252.40 491.1,252.40 491.5,252.40 491.9,252.40 492.3,252.40 492.7,252.40 493.1,252.39 493.5,252.39 493.9,252.37 494.3,252.35 494.7,252.31 495.1,252.25 495.5,252.16 495.9,252.00 496.3,251.78 496.7,251.44 497.1,250.97 497.5,250.32 497.9,249.46 498.3,248.36 498.7,247.00 499.1,245.37 499.5,243.51 499.9,241.46 500.3,239.31 500.7,237.16 501.1,235.14 501.5,233.40 501.9,232.04 502.3,231.19 502.7,230.90 503.1,231.20 503.5,232.08 503.9,233.44 504.3,235.20 504.7,237.23 505.1,239.38 505.5,241.53 505.9,243.57 506.3,245.43 506.7,247.04 507.1,248.40 507.5,249.49" fill="none" stroke="#c0143f" stroke-width="1.45" stroke-linejoin="round"/>
<line x1="430.00" y1="253.00" x2="507.50" y2="253.00" stroke="#c0143f" stroke-width="1.2"/>
<text x="461.00" y="206.90" font-size="7.6" textLength="15.07" lengthAdjust="spacingAndGlyphs" fill="#231f20" stroke="#231f20" stroke-width="0.22">54%</text>
<line x1="468.40" y1="210.20" x2="468.40" y2="225.50" stroke="#231f20" stroke-width="0.9"/>
<path d="M465.80,224.70 L468.40,225.80 L471.00,224.70 L468.40,229.50 Z" fill="#231f20"/>
<text x="448.49" y="264.30" font-size="7.8" textLength="38.87" lengthAdjust="spacingAndGlyphs" fill="#231f20" stroke="#231f20" stroke-width="0.22">ADAR1-Mut</text>
<polyline points="296.9,326.09 297.3,325.24 297.7,324.24 298.1,323.08 298.5,321.77 298.9,320.38 299.3,318.96 299.7,317.63 300.1,316.49 300.5,315.66 300.9,315.23 301.3,315.28 301.7,315.85 302.1,316.92 302.5,318.45 302.9,320.37 303.3,322.56 303.7,324.92 304.1,327.32 304.5,329.66 304.9,331.85 305.3,333.83 305.7,335.56 306.1,337.02 306.5,338.21 306.9,339.17 307.3,339.90 307.7,340.45 308.1,340.85 308.5,341.14 308.9,341.34 309.3,341.47 309.7,341.56 310.1,341.62 310.5,341.65 310.9,341.67 311.3,341.68 311.7,341.69 312.1,341.69 312.5,341.70 312.9,341.70 313.3,341.70 313.7,341.70 314.1,341.70 314.5,341.69 314.9,341.69 315.3,341.68 315.7,341.67 316.1,341.66 316.5,341.63 316.9,341.59 317.3,341.52 317.7,341.42 318.1,341.27 318.5,341.06 318.9,340.75 319.3,340.34 319.7,339.79 320.1,339.07 320.5,338.17 320.9,337.06 321.3,335.75 321.7,334.24 322.1,332.56 322.5,330.77 322.9,328.93 323.3,327.12 323.7,325.43 324.1,323.97 324.5,322.82 324.9,322.05 325.3,321.70 325.7,321.80 326.1,322.33 326.5,323.23 326.9,324.43 327.3,325.83 327.7,327.33 328.1,328.81 328.5,330.17 328.9,331.32 329.3,332.19 329.7,332.73 330.1,332.92 330.5,332.75 330.9,332.25 331.3,331.46 331.7,330.44 332.1,329.26 332.5,328.02 332.9,326.78 333.3,325.65 333.7,324.69 334.1,323.96 334.5,323.49 334.9,323.29 335.3,323.33 335.6,323.56 336.0,323.91 336.4,324.30 336.8,324.64 337.2,324.84 337.6,324.84 338.0,324.60 338.4,324.10 338.8,323.38 339.2,322.48 339.6,321.49 340.0,320.50 340.4,319.62 340.8,318.96 341.2,318.61 341.6,318.63 342.0,319.04 342.4,319.86 342.8,321.04 343.2,322.52 343.6,324.20 344.0,326.00 344.4,327.79 344.8,329.48 345.2,330.97 345.6,332.18 346.0,333.06 346.4,333.56 346.8,333.65 347.2,333.34 347.6,332.65 348.0,331.61 348.4,330.28 348.8,328.74 349.2,327.09 349.6,325.44 350.0,323.90 350.4,322.58 350.8,321.58 351.2,320.99 351.6,320.85 352.0,321.18 352.4,321.96 352.8,323.15 353.2,324.67 353.6,326.42 354.0,328.31 354.4,330.24 354.8,332.11 355.2,333.87 355.6,335.45 356.0,336.83 356.4,337.99 356.8,338.94 357.2,339.69 357.6,340.28 358.0,340.71 358.4,341.03 358.8,341.26 359.2,341.41 359.6,341.52 360.0,341.59 360.4,341.63 360.8,341.66 361.2,341.68 361.6,341.69 362.0,341.69 362.4,341.70 362.8,341.70 363.2,341.70 363.6,341.70 364.0,341.70 364.4,341.70 364.8,341.70 365.2,341.70 365.6,341.70 366.0,341.70 366.4,341.70 366.8,341.70 367.2,341.70 367.6,341.70 368.0,341.70 368.4,341.70 368.8,341.70 369.2,341.70 369.6,341.70 370.0,341.70 370.4,341.70 370.8,341.70 371.2,341.70 371.6,341.70 372.0,341.70 372.4,341.70 372.8,341.70 373.2,341.70 373.6,341.70 374.0,341.70 374.4,341.70" fill="none" stroke="#141414" stroke-width="1.45" stroke-linejoin="round"/>
<polyline points="296.9,341.70 297.3,341.70 297.7,341.70 298.1,341.70 298.5,341.69 298.9,341.68 299.3,341.67 299.7,341.64 300.1,341.60 300.5,341.52 300.9,341.41 301.3,341.23 301.7,340.96 302.1,340.56 302.5,340.01 302.9,339.26 303.3,338.27 303.7,337.01 304.1,335.46 304.5,333.63 304.9,331.55 305.3,329.28 305.7,326.92 306.1,324.59 306.5,322.43 306.9,320.60 307.3,319.22 307.7,318.40 308.1,318.21 308.5,318.68 308.9,319.74 309.3,321.33 309.7,323.33 310.1,325.58 310.5,327.94 310.9,330.27 311.3,332.47 311.7,334.45 312.1,336.16 312.5,337.58 312.9,338.72 313.3,339.61 313.7,340.27 314.1,340.75 314.5,341.08 314.9,341.31 315.3,341.46 315.7,341.55 316.1,341.61 316.5,341.63 316.9,341.63 317.3,341.61 317.7,341.55 318.1,341.47 318.5,341.33 318.9,341.15 319.3,340.91 319.7,340.62 320.1,340.29 320.5,339.96 320.9,339.65 321.3,339.40 321.7,339.24 322.1,339.20 322.5,339.28 322.9,339.47 323.3,339.75 323.7,340.07 324.1,340.41 324.5,340.72 324.9,340.99 325.3,341.22 325.7,341.38 326.1,341.50 326.5,341.58 326.9,341.63 327.3,341.67 327.7,341.68 328.1,341.69 328.5,341.70 328.9,341.70 329.3,341.70 329.7,341.70 330.1,341.70 330.5,341.70 330.9,341.70 331.3,341.70 331.7,341.70 332.1,341.70 332.5,341.70 332.9,341.70 333.3,341.70 333.7,341.70 334.1,341.70 334.5,341.70 334.9,341.70 335.3,341.70 335.6,341.70 336.0,341.70 336.4,341.70 336.8,341.70 337.2,341.70 337.6,341.70 338.0,341.70 338.4,341.70 338.8,341.70 339.2,341.70 339.6,341.70 340.0,341.70 340.4,341.70 340.8,341.70 341.2,341.70 341.6,341.70 342.0,341.70 342.4,341.70 342.8,341.70 343.2,341.70 343.6,341.70 344.0,341.70 344.4,341.70 344.8,341.70 345.2,341.70 345.6,341.70 346.0,341.70 346.4,341.70 346.8,341.70 347.2,341.70 347.6,341.70 348.0,341.70 348.4,341.70 348.8,341.70 349.2,341.70 349.6,341.70 350.0,341.69 350.4,341.68 350.8,341.67 351.2,341.64 351.6,341.59 352.0,341.52 352.4,341.40 352.8,341.21 353.2,340.92 353.6,340.50 354.0,339.91 354.4,339.11 354.8,338.04 355.2,336.67 355.6,334.98 356.0,332.97 356.4,330.66 356.8,328.13 357.2,325.48 357.6,322.83 358.0,320.36 358.4,318.21 358.8,316.56 359.2,315.53 359.6,315.20 360.0,315.60 360.4,316.70 360.8,318.40 361.2,320.58 361.6,323.08 362.0,325.73 362.4,328.38 362.8,330.90 363.2,333.17 363.6,335.16 364.0,336.81 364.4,338.15 364.8,339.19 365.2,339.98 365.6,340.55 366.0,340.95 366.4,341.23 366.8,341.41 367.2,341.53 367.6,341.60 368.0,341.64 368.4,341.67 368.8,341.68 369.2,341.69 369.6,341.70 370.0,341.70 370.4,341.70 370.8,341.70 371.2,341.70 371.6,341.70 372.0,341.70 372.4,341.70 372.8,341.70 373.2,341.70 373.6,341.70 374.0,341.70 374.4,341.70" fill="none" stroke="#2b58a6" stroke-width="1.45" stroke-linejoin="round"/>
<polyline points="296.9,341.70 297.3,341.70 297.7,341.70 298.1,341.70 298.5,341.70 298.9,341.70 299.3,341.70 299.7,341.70 300.1,341.70 300.5,341.70 300.9,341.70 301.3,341.70 301.7,341.70 302.1,341.70 302.5,341.70 302.9,341.70 303.3,341.70 303.7,341.70 304.1,341.70 304.5,341.70 304.9,341.70 305.3,341.70 305.7,341.70 306.1,341.70 306.5,341.70 306.9,341.69 307.3,341.69 307.7,341.68 308.1,341.66 308.5,341.62 308.9,341.57 309.3,341.47 309.7,341.33 310.1,341.10 310.5,340.76 310.9,340.28 311.3,339.60 311.7,338.68 312.1,337.48 312.5,335.97 312.9,334.12 313.3,331.96 313.7,329.52 314.1,326.89 314.5,324.18 314.9,321.54 315.3,319.14 315.7,317.14 316.1,315.70 316.5,314.92 316.9,314.87 317.3,315.56 317.7,316.92 318.1,318.86 318.5,321.22 318.9,323.83 319.3,326.54 319.7,329.19 320.1,331.66 320.5,333.86 320.9,335.74 321.3,337.30 321.7,338.53 322.1,339.48 322.5,340.19 322.9,340.69 323.3,341.04 323.7,341.27 324.1,341.42 324.5,341.51 324.9,341.56 325.3,341.58 325.7,341.58 326.1,341.55 326.5,341.51 326.9,341.44 327.3,341.33 327.7,341.18 328.1,340.95 328.5,340.64 328.9,340.20 329.3,339.62 329.7,338.87 330.1,337.93 330.5,336.79 330.9,335.45 331.3,333.94 331.7,332.30 332.1,330.61 332.5,328.95 332.9,327.42 333.3,326.12 333.7,325.13 334.1,324.54 334.5,324.37 334.9,324.64 335.3,325.31 335.6,326.33 336.0,327.60 336.4,329.03 336.8,330.52 337.2,331.98 337.6,333.34 338.0,334.56 338.4,335.59 338.8,336.43 339.2,337.09 339.6,337.58 340.0,337.94 340.4,338.20 340.8,338.37 341.2,338.48 341.6,338.56 342.0,338.61 342.4,338.66 342.8,338.70 343.2,338.75 343.6,338.80 344.0,338.86 344.4,338.94 344.8,339.02 345.2,339.11 345.6,339.20 346.0,339.31 346.4,339.42 346.8,339.53 347.2,339.65 347.6,339.77 348.0,339.89 348.4,340.01 348.8,340.13 349.2,340.25 349.6,340.36 350.0,340.48 350.4,340.58 350.8,340.68 351.2,340.78 351.6,340.87 352.0,340.96 352.4,341.04 352.8,341.11 353.2,341.18 353.6,341.24 354.0,341.30 354.4,341.35 354.8,341.39 355.2,341.44 355.6,341.47 356.0,341.50 356.4,341.53 356.8,341.56 357.2,341.58 357.6,341.60 358.0,341.62 358.4,341.63 358.8,341.64 359.2,341.65 359.6,341.66 360.0,341.67 360.4,341.67 360.8,341.68 361.2,341.68 361.6,341.69 362.0,341.69 362.4,341.69 362.8,341.69 363.2,341.69 363.6,341.70 364.0,341.70 364.4,341.70 364.8,341.70 365.2,341.70 365.6,341.70 366.0,341.70 366.4,341.70 366.8,341.70 367.2,341.69 367.6,341.69 368.0,341.68 368.4,341.66 368.8,341.63 369.2,341.58 369.6,341.50 370.0,341.37 370.4,341.17 370.8,340.88 371.2,340.45 371.6,339.86 372.0,339.07 372.4,338.03 372.8,336.72 373.2,335.13 373.6,333.26 374.0,331.17 374.4,328.91" fill="none" stroke="#5dbb3f" stroke-width="1.45" stroke-linejoin="round"/>
<polyline points="296.9,341.70 297.3,341.70 297.7,341.70 298.1,341.70 298.5,341.70 298.9,341.70 299.3,341.70 299.7,341.70 300.1,341.70 300.5,341.70 300.9,341.70 301.3,341.70 301.7,341.70 302.1,341.70 302.5,341.70 302.9,341.70 303.3,341.70 303.7,341.70 304.1,341.70 304.5,341.70 304.9,341.70 305.3,341.70 305.7,341.70 306.1,341.70 306.5,341.70 306.9,341.70 307.3,341.70 307.7,341.70 308.1,341.70 308.5,341.70 308.9,341.70 309.3,341.70 309.7,341.70 310.1,341.70 310.5,341.70 310.9,341.70 311.3,341.70 311.7,341.70 312.1,341.70 312.5,341.70 312.9,341.70 313.3,341.70 313.7,341.70 314.1,341.70 314.5,341.70 314.9,341.70 315.3,341.70 315.7,341.70 316.1,341.70 316.5,341.70 316.9,341.70 317.3,341.70 317.7,341.70 318.1,341.70 318.5,341.70 318.9,341.70 319.3,341.70 319.7,341.70 320.1,341.70 320.5,341.70 320.9,341.70 321.3,341.70 321.7,341.70 322.1,341.70 322.5,341.70 322.9,341.70 323.3,341.70 323.7,341.70 324.1,341.70 324.5,341.70 324.9,341.70 325.3,341.70 325.7,341.70 326.1,341.70 326.5,341.70 326.9,341.70 327.3,341.70 327.7,341.70 328.1,341.70 328.5,341.70 328.9,341.70 329.3,341.70 329.7,341.70 330.1,341.70 330.5,341.70 330.9,341.70 331.3,341.70 331.7,341.70 332.1,341.70 332.5,341.70 332.9,341.70 333.3,341.70 333.7,341.70 334.1,341.70 334.5,341.70 334.9,341.70 335.3,341.70 335.6,341.70 336.0,341.70 336.4,341.70 336.8,341.70 337.2,341.70 337.6,341.70 338.0,341.70 338.4,341.70 338.8,341.70 339.2,341.70 339.6,341.70 340.0,341.70 340.4,341.70 340.8,341.70 341.2,341.70 341.6,341.70 342.0,341.70 342.4,341.70 342.8,341.70 343.2,341.70 343.6,341.70 344.0,341.70 344.4,341.70 344.8,341.70 345.2,341.70 345.6,341.70 346.0,341.70 346.4,341.70 346.8,341.70 347.2,341.70 347.6,341.70 348.0,341.70 348.4,341.70 348.8,341.70 349.2,341.70 349.6,341.70 350.0,341.70 350.4,341.70 350.8,341.70 351.2,341.70 351.6,341.70 352.0,341.70 352.4,341.70 352.8,341.70 353.2,341.70 353.6,341.70 354.0,341.70 354.4,341.70 354.8,341.70 355.2,341.70 355.6,341.70 356.0,341.70 356.4,341.70 356.8,341.70 357.2,341.70 357.6,341.70 358.0,341.70 358.4,341.70 358.8,341.70 359.2,341.70 359.6,341.69 360.0,341.68 360.4,341.67 360.8,341.64 361.2,341.60 361.6,341.53 362.0,341.42 362.4,341.24 362.8,340.97 363.2,340.58 363.6,340.03 364.0,339.28 364.4,338.28 364.8,337.00 365.2,335.41 365.6,333.53 366.0,331.36 366.4,328.98 366.8,326.47 367.2,323.98 367.6,321.63 368.0,319.60 368.4,318.03 368.8,317.03 369.2,316.70 369.6,317.06 370.0,318.07 370.4,319.66 370.8,321.71 371.2,324.06 371.6,326.56 372.0,329.06 372.4,331.44 372.8,333.59 373.2,335.47 373.6,337.05 374.0,338.32 374.4,339.31" fill="none" stroke="#c0143f" stroke-width="1.45" stroke-linejoin="round"/>
<line x1="296.90" y1="342.30" x2="374.40" y2="342.30" stroke="#c0143f" stroke-width="1.2"/>
<text x="328.13" y="300.60" font-size="7.6" textLength="14.83" lengthAdjust="spacingAndGlyphs" fill="#231f20" stroke="#231f20" stroke-width="0.22">47%</text>
<line x1="335.60" y1="303.30" x2="335.60" y2="317.20" stroke="#231f20" stroke-width="0.9"/>
<path d="M333.00,316.40 L335.60,317.50 L338.20,316.40 L335.60,321.20 Z" fill="#231f20"/>
<text x="329.99" y="351.30" font-size="7.8" textLength="19.61" lengthAdjust="spacingAndGlyphs" fill="#231f20" stroke="#231f20" stroke-width="0.22">shCtrl</text>
<polyline points="386.0,330.35 386.4,330.81 386.8,331.21 387.2,331.47 387.6,331.52 388.0,331.29 388.4,330.77 388.8,329.94 389.2,328.85 389.6,327.54 390.0,326.12 390.4,324.69 390.8,323.37 391.2,322.26 391.6,321.47 392.0,321.08 392.4,321.13 392.8,321.63 393.2,322.57 393.6,323.87 394.0,325.47 394.4,327.26 394.8,329.15 395.2,331.05 395.6,332.87 396.0,334.55 396.4,336.05 396.8,337.33 397.2,338.41 397.6,339.27 398.0,339.95 398.4,340.47 398.8,340.86 399.2,341.13 399.6,341.33 400.0,341.46 400.4,341.55 400.8,341.61 401.2,341.65 401.6,341.67 402.0,341.68 402.4,341.69 402.8,341.69 403.2,341.70 403.6,341.70 404.0,341.70 404.4,341.70 404.8,341.70 405.2,341.70 405.6,341.70 405.9,341.70 406.3,341.70 406.7,341.70 407.1,341.69 407.5,341.69 407.9,341.68 408.3,341.66 408.7,341.63 409.1,341.59 409.5,341.52 409.9,341.42 410.3,341.27 410.7,341.06 411.1,340.78 411.5,340.40 411.9,339.90 412.3,339.27 412.7,338.50 413.1,337.59 413.5,336.53 413.9,335.35 414.3,334.09 414.7,332.79 415.1,331.51 415.5,330.32 415.9,329.29 416.3,328.47 416.7,327.93 417.1,327.70 417.5,327.79 417.9,328.19 418.3,328.87 418.7,329.76 419.1,330.80 419.5,331.89 419.9,332.97 420.3,333.96 420.7,334.83 421.1,335.56 421.5,336.17 421.9,336.71 422.3,337.21 422.7,337.72 423.1,338.26 423.5,338.83 423.9,339.40 424.3,339.94 424.7,340.41 425.1,340.80 425.5,341.09 425.9,341.29 426.3,341.39 426.7,341.42 427.1,341.38 427.5,341.27 427.9,341.09 428.3,340.83 428.7,340.46 429.1,339.98 429.5,339.36 429.9,338.59 430.3,337.66 430.7,336.58 431.1,335.37 431.5,334.04 431.9,332.66 432.3,331.27 432.7,329.95 433.1,328.77 433.5,327.79 433.9,327.09 434.3,326.70 434.7,326.65 435.1,326.92 435.5,327.49 435.9,328.30 436.3,329.26 436.7,330.31 437.1,331.32 437.5,332.21 437.9,332.90 438.3,333.31 438.7,333.39 439.1,333.12 439.5,332.51 439.9,331.57 440.3,330.38 440.7,329.00 441.1,327.53 441.5,326.10 441.9,324.79 442.3,323.73 442.7,323.00 443.1,322.66 443.5,322.75 443.9,323.27 444.3,324.18 444.7,325.43 445.1,326.95 445.4,328.63 445.8,330.39 446.2,332.14 446.6,333.81 447.0,335.34 447.4,336.69 447.8,337.84 448.2,338.80 448.6,339.57 449.0,340.18 449.4,340.63 449.8,340.97 450.2,341.21 450.6,341.38 451.0,341.50 451.4,341.57 451.8,341.62 452.2,341.65 452.6,341.67 453.0,341.69 453.4,341.69 453.8,341.70 454.2,341.70 454.6,341.70 455.0,341.70 455.4,341.70 455.8,341.70 456.2,341.70 456.6,341.70 457.0,341.70 457.4,341.70 457.8,341.70 458.2,341.70 458.6,341.70 459.0,341.70 459.4,341.70 459.8,341.70 460.2,341.70 460.6,341.70 461.0,341.70 461.4,341.70 461.8,341.70 462.2,341.70 462.6,341.70 463.0,341.70 463.4,341.70 463.8,341.70 464.2,341.70 464.6,341.70 465.0,341.70" fill="none" stroke="#141414" stroke-width="1.45" stroke-linejoin="round"/>
<polyline points="386.0,341.70 386.4,341.70 386.8,341.70 387.2,341.70 387.6,341.70 388.0,341.70 388.4,341.70 388.8,341.70 389.2,341.70 389.6,341.70 390.0,341.70 390.4,341.70 390.8,341.69 391.2,341.69 391.6,341.68 392.0,341.65 392.4,341.62 392.8,341.56 393.2,341.47 393.6,341.33 394.0,341.11 394.4,340.79 394.8,340.34 395.2,339.71 395.6,338.89 396.0,337.83 396.4,336.51 396.8,334.93 397.2,333.12 397.6,331.12 398.0,329.00 398.4,326.88 398.8,324.88 399.2,323.12 399.6,321.74 400.0,320.85 400.4,320.50 400.8,320.74 401.2,321.54 401.6,322.84 402.0,324.54 402.4,326.50 402.8,328.61 403.2,330.74 403.6,332.77 404.0,334.62 404.4,336.24 404.8,337.61 405.2,338.71 405.6,339.58 405.9,340.24 406.3,340.72 406.7,341.06 407.1,341.29 407.5,341.45 407.9,341.55 408.3,341.61 408.7,341.65 409.1,341.67 409.5,341.68 409.9,341.69 410.3,341.70 410.7,341.70 411.1,341.70 411.5,341.70 411.9,341.70 412.3,341.70 412.7,341.70 413.1,341.70 413.5,341.70 413.9,341.70 414.3,341.70 414.7,341.70 415.1,341.70 415.5,341.70 415.9,341.70 416.3,341.70 416.7,341.70 417.1,341.70 417.5,341.70 417.9,341.70 418.3,341.70 418.7,341.70 419.1,341.70 419.5,341.70 419.9,341.70 420.3,341.70 420.7,341.70 421.1,341.70 421.5,341.70 421.9,341.70 422.3,341.70 422.7,341.70 423.1,341.70 423.5,341.70 423.9,341.70 424.3,341.70 424.7,341.70 425.1,341.70 425.5,341.70 425.9,341.70 426.3,341.70 426.7,341.70 427.1,341.70 427.5,341.70 427.9,341.70 428.3,341.70 428.7,341.70 429.1,341.70 429.5,341.70 429.9,341.70 430.3,341.70 430.7,341.70 431.1,341.70 431.5,341.70 431.9,341.70 432.3,341.70 432.7,341.70 433.1,341.70 433.5,341.70 433.9,341.70 434.3,341.70 434.7,341.70 435.1,341.70 435.5,341.70 435.9,341.70 436.3,341.70 436.7,341.70 437.1,341.70 437.5,341.70 437.9,341.70 438.3,341.70 438.7,341.70 439.1,341.70 439.5,341.70 439.9,341.70 440.3,341.70 440.7,341.70 441.1,341.70 441.5,341.70 441.9,341.69 442.3,341.68 442.7,341.67 443.1,341.65 443.5,341.61 443.9,341.54 444.3,341.44 444.7,341.27 445.1,341.02 445.4,340.66 445.8,340.14 446.2,339.42 446.6,338.47 447.0,337.23 447.4,335.70 447.8,333.87 448.2,331.75 448.6,329.40 449.0,326.91 449.4,324.41 449.8,322.03 450.2,319.93 450.6,318.27 451.0,317.16 451.4,316.71 451.8,316.94 452.2,317.84 452.6,319.33 453.0,321.30 453.4,323.60 453.8,326.08 454.2,328.59 454.6,331.00 455.0,333.20 455.4,335.13 455.8,336.76 456.2,338.09 456.6,339.13 457.0,339.93 457.4,340.51 457.8,340.92 458.2,341.20 458.6,341.39 459.0,341.51 459.4,341.59 459.8,341.64 460.2,341.67 460.6,341.68 461.0,341.69 461.4,341.70 461.8,341.70 462.2,341.70 462.6,341.70 463.0,341.70 463.4,341.70 463.8,341.70 464.2,341.70 464.6,341.70 465.0,341.70" fill="none" stroke="#2b58a6" stroke-width="1.45" stroke-linejoin="round"/>
<polyline points="386.0,341.70 386.4,341.70 386.8,341.70 387.2,341.70 387.6,341.70 388.0,341.70 388.4,341.70 388.8,341.70 389.2,341.70 389.6,341.70 390.0,341.70 390.4,341.70 390.8,341.70 391.2,341.70 391.6,341.70 392.0,341.70 392.4,341.70 392.8,341.70 393.2,341.70 393.6,341.70 394.0,341.70 394.4,341.70 394.8,341.70 395.2,341.70 395.6,341.70 396.0,341.70 396.4,341.70 396.8,341.70 397.2,341.70 397.6,341.70 398.0,341.70 398.4,341.70 398.8,341.70 399.2,341.70 399.6,341.70 400.0,341.69 400.4,341.68 400.8,341.67 401.2,341.64 401.6,341.60 402.0,341.53 402.4,341.41 402.8,341.24 403.2,340.98 403.6,340.61 404.0,340.08 404.4,339.38 404.8,338.45 405.2,337.28 405.6,335.84 405.9,334.16 406.3,332.25 406.7,330.19 407.1,328.06 407.5,325.97 407.9,324.06 408.3,322.46 408.7,321.28 409.1,320.62 409.5,320.53 409.9,321.02 410.3,322.04 410.7,323.51 411.1,325.32 411.5,327.34 411.9,329.42 412.3,331.44 412.7,333.30 413.1,334.92 413.5,336.25 413.9,337.28 414.3,338.01 414.7,338.45 415.1,338.66 415.5,338.67 415.9,338.52 416.3,338.28 416.7,337.99 417.1,337.70 417.5,337.43 417.9,337.22 418.3,337.09 418.7,337.04 419.1,337.06 419.5,337.12 419.9,337.20 420.3,337.24 420.7,337.20 421.1,337.02 421.5,336.65 421.9,336.06 422.3,335.24 422.7,334.17 423.1,332.90 423.5,331.48 423.9,330.00 424.3,328.55 424.7,327.24 425.1,326.18 425.5,325.46 425.9,325.16 426.3,325.29 426.7,325.86 427.1,326.82 427.5,328.10 427.9,329.61 428.3,331.24 428.7,332.90 429.1,334.50 429.5,335.97 429.9,337.26 430.3,338.36 430.7,339.25 431.1,339.95 431.5,340.49 431.9,340.88 432.3,341.16 432.7,341.36 433.1,341.49 433.5,341.57 433.9,341.62 434.3,341.66 434.7,341.68 435.1,341.69 435.5,341.69 435.9,341.70 436.3,341.70 436.7,341.70 437.1,341.70 437.5,341.70 437.9,341.70 438.3,341.70 438.7,341.70 439.1,341.70 439.5,341.70 439.9,341.70 440.3,341.70 440.7,341.70 441.1,341.70 441.5,341.70 441.9,341.70 442.3,341.70 442.7,341.70 443.1,341.70 443.5,341.70 443.9,341.70 444.3,341.70 444.7,341.70 445.1,341.70 445.4,341.70 445.8,341.70 446.2,341.70 446.6,341.70 447.0,341.70 447.4,341.70 447.8,341.70 448.2,341.70 448.6,341.70 449.0,341.70 449.4,341.70 449.8,341.70 450.2,341.70 450.6,341.70 451.0,341.70 451.4,341.70 451.8,341.70 452.2,341.70 452.6,341.70 453.0,341.70 453.4,341.70 453.8,341.70 454.2,341.70 454.6,341.70 455.0,341.70 455.4,341.70 455.8,341.70 456.2,341.70 456.6,341.70 457.0,341.70 457.4,341.70 457.8,341.70 458.2,341.69 458.6,341.69 459.0,341.67 459.4,341.65 459.8,341.62 460.2,341.56 460.6,341.47 461.0,341.34 461.4,341.14 461.8,340.86 462.2,340.47 462.6,339.95 463.0,339.28 463.4,338.44 463.8,337.43 464.2,336.25 464.6,334.95 465.0,333.56" fill="none" stroke="#5dbb3f" stroke-width="1.45" stroke-linejoin="round"/>
<polyline points="386.0,341.70 386.4,341.70 386.8,341.70 387.2,341.70 387.6,341.70 388.0,341.70 388.4,341.70 388.8,341.70 389.2,341.70 389.6,341.70 390.0,341.70 390.4,341.70 390.8,341.70 391.2,341.70 391.6,341.70 392.0,341.70 392.4,341.70 392.8,341.70 393.2,341.70 393.6,341.70 394.0,341.70 394.4,341.70 394.8,341.70 395.2,341.70 395.6,341.70 396.0,341.70 396.4,341.70 396.8,341.70 397.2,341.70 397.6,341.70 398.0,341.70 398.4,341.70 398.8,341.70 399.2,341.70 399.6,341.70 400.0,341.70 400.4,341.70 400.8,341.70 401.2,341.70 401.6,341.70 402.0,341.70 402.4,341.70 402.8,341.70 403.2,341.70 403.6,341.70 404.0,341.70 404.4,341.70 404.8,341.70 405.2,341.70 405.6,341.70 405.9,341.70 406.3,341.70 406.7,341.70 407.1,341.70 407.5,341.70 407.9,341.70 408.3,341.70 408.7,341.70 409.1,341.70 409.5,341.70 409.9,341.70 410.3,341.70 410.7,341.70 411.1,341.70 411.5,341.70 411.9,341.70 412.3,341.70 412.7,341.70 413.1,341.70 413.5,341.70 413.9,341.70 414.3,341.70 414.7,341.70 415.1,341.70 415.5,341.70 415.9,341.70 416.3,341.70 416.7,341.70 417.1,341.70 417.5,341.70 417.9,341.70 418.3,341.70 418.7,341.70 419.1,341.70 419.5,341.70 419.9,341.70 420.3,341.70 420.7,341.70 421.1,341.70 421.5,341.70 421.9,341.70 422.3,341.70 422.7,341.70 423.1,341.70 423.5,341.70 423.9,341.70 424.3,341.70 424.7,341.70 425.1,341.70 425.5,341.70 425.9,341.70 426.3,341.70 426.7,341.70 427.1,341.70 427.5,341.70 427.9,341.70 428.3,341.70 428.7,341.70 429.1,341.70 429.5,341.70 429.9,341.70 430.3,341.70 430.7,341.70 431.1,341.70 431.5,341.70 431.9,341.70 432.3,341.70 432.7,341.70 433.1,341.70 433.5,341.70 433.9,341.70 434.3,341.70 434.7,341.70 435.1,341.70 435.5,341.70 435.9,341.70 436.3,341.70 436.7,341.70 437.1,341.70 437.5,341.70 437.9,341.70 438.3,341.70 438.7,341.70 439.1,341.70 439.5,341.70 439.9,341.70 440.3,341.70 440.7,341.70 441.1,341.70 441.5,341.70 441.9,341.70 442.3,341.70 442.7,341.70 443.1,341.70 443.5,341.70 443.9,341.70 444.3,341.70 444.7,341.70 445.1,341.70 445.4,341.70 445.8,341.70 446.2,341.70 446.6,341.70 447.0,341.70 447.4,341.70 447.8,341.70 448.2,341.70 448.6,341.70 449.0,341.70 449.4,341.70 449.8,341.70 450.2,341.70 450.6,341.69 451.0,341.69 451.4,341.68 451.8,341.66 452.2,341.64 452.6,341.59 453.0,341.51 453.4,341.39 453.8,341.21 454.2,340.94 454.6,340.55 455.0,340.01 455.4,339.28 455.8,338.32 456.2,337.13 456.6,335.68 457.0,333.98 457.4,332.08 457.8,330.04 458.2,327.95 458.6,325.92 459.0,324.09 459.4,322.58 459.8,321.51 460.2,320.96 460.6,320.98 461.0,321.56 461.4,322.66 461.8,324.19 462.2,326.03 462.6,328.07 463.0,330.16 463.4,332.20 463.8,334.09 464.2,335.77 464.6,337.20 465.0,338.39" fill="none" stroke="#c0143f" stroke-width="1.45" stroke-linejoin="round"/>
<line x1="386.00" y1="342.30" x2="465.00" y2="342.30" stroke="#c0143f" stroke-width="1.2"/>
<text x="419.22" y="300.80" font-size="7.6" textLength="15.05" lengthAdjust="spacingAndGlyphs" fill="#231f20" stroke="#231f20" stroke-width="0.22">20%</text>
<line x1="426.50" y1="304.60" x2="426.50" y2="319.20" stroke="#231f20" stroke-width="0.9"/>
<path d="M423.90,318.40 L426.50,319.50 L429.10,318.40 L426.50,323.20 Z" fill="#231f20"/>
<text x="420.00" y="351.10" font-size="7.8" textLength="30.94" lengthAdjust="spacingAndGlyphs" fill="#231f20" stroke="#231f20" stroke-width="0.22">shADAR1</text>
<text x="9.28" y="386.30" font-size="11.6" textLength="7.19" lengthAdjust="spacingAndGlyphs" fill="#231f20" stroke="#231f20" stroke-width="0.22">D</text>
<line x1="38.10" y1="390.10" x2="38.10" y2="492.90" stroke="#231f20" stroke-width="1.3"/>
<line x1="37.50" y1="491.40" x2="153.00" y2="491.40" stroke="#231f20" stroke-width="1.2"/>
<line x1="94.20" y1="491.40" x2="94.20" y2="494.00" stroke="#231f20" stroke-width="0.8"/>
<line x1="35.50" y1="491.40" x2="38.10" y2="491.40" stroke="#231f20" stroke-width="0.9"/>
<text x="32.00" y="493.90" font-size="7.4" text-anchor="end" fill="#231f20" stroke="#231f20" stroke-width="0.22">0.0</text>
<line x1="35.50" y1="477.30" x2="38.10" y2="477.30" stroke="#231f20" stroke-width="0.9"/>
<text x="32.00" y="479.80" font-size="7.4" text-anchor="end" fill="#231f20" stroke="#231f20" stroke-width="0.22">0.5</text>
<line x1="35.50" y1="463.20" x2="38.10" y2="463.20" stroke="#231f20" stroke-width="0.9"/>
<text x="32.00" y="465.70" font-size="7.4" text-anchor="end" fill="#231f20" stroke="#231f20" stroke-width="0.22">1.0</text>
<line x1="35.50" y1="449.10" x2="38.10" y2="449.10" stroke="#231f20" stroke-width="0.9"/>
<text x="32.00" y="451.60" font-size="7.4" text-anchor="end" fill="#231f20" stroke="#231f20" stroke-width="0.22">1.5</text>
<line x1="35.50" y1="435.00" x2="38.10" y2="435.00" stroke="#231f20" stroke-width="0.9"/>
<text x="32.00" y="437.50" font-size="7.4" text-anchor="end" fill="#231f20" stroke="#231f20" stroke-width="0.22">2.0</text>
<line x1="35.50" y1="420.90" x2="38.10" y2="420.90" stroke="#231f20" stroke-width="0.9"/>
<text x="32.00" y="423.40" font-size="7.4" text-anchor="end" fill="#231f20" stroke="#231f20" stroke-width="0.22">2.5</text>
<line x1="35.50" y1="406.80" x2="38.10" y2="406.80" stroke="#231f20" stroke-width="0.9"/>
<text x="32.00" y="409.30" font-size="7.4" text-anchor="end" fill="#231f20" stroke="#231f20" stroke-width="0.22">3.0</text>
<line x1="35.50" y1="394.20" x2="38.10" y2="394.20" stroke="#231f20" stroke-width="0.9"/>
<text x="32.00" y="396.70" font-size="7.4" text-anchor="end" fill="#231f20" stroke="#231f20" stroke-width="0.22">3.5</text>
<text x="15.40" y="482.16" font-size="8.9" textLength="81.63" lengthAdjust="spacingAndGlyphs" fill="#231f20" stroke="#231f20" stroke-width="0.22" transform="rotate(-90 15.40 482.16)">Relative enrichment</text>
<rect x="50.40" y="463.20" width="15.40" height="27.80" fill="#a8002c"/>
<line x1="73.65" y1="441.20" x2="73.65" y2="433.03" stroke="#231f20" stroke-width="0.95"/>
<line x1="71.55" y1="433.03" x2="75.75" y2="433.03" stroke="#231f20" stroke-width="1.15"/>
<rect x="65.80" y="441.20" width="15.70" height="49.80" fill="#2c4d82"/>
<rect x="106.50" y="463.20" width="15.40" height="27.80" fill="#a8002c"/>
<line x1="129.65" y1="408.77" x2="129.65" y2="397.49" stroke="#231f20" stroke-width="0.95"/>
<line x1="127.55" y1="397.49" x2="131.75" y2="397.49" stroke="#231f20" stroke-width="1.15"/>
<rect x="121.90" y="408.77" width="15.50" height="82.23" fill="#2c4d82"/>
<rect x="43.50" y="393.00" width="4.60" height="4.30" fill="#a8002c"/>
<text x="49.82" y="397.60" font-size="7.4" textLength="32.61" lengthAdjust="spacingAndGlyphs" fill="#231f20" stroke="#231f20" stroke-width="0.22">MM1s IgG</text>
<rect x="43.50" y="404.80" width="4.60" height="4.30" fill="#2c4d82"/>
<text x="49.85" y="409.60" font-size="7.4" textLength="42.68" lengthAdjust="spacingAndGlyphs" fill="#231f20" stroke="#231f20" stroke-width="0.22">MM1s ADAR1</text>
<text x="49.54" y="503.90" font-size="7.6" textLength="32.60" lengthAdjust="spacingAndGlyphs" fill="#231f20" stroke="#231f20" stroke-width="0.22">NEIL-RIP2</text>
<text x="105.94" y="503.90" font-size="7.6" textLength="32.46" lengthAdjust="spacingAndGlyphs" fill="#231f20" stroke="#231f20" stroke-width="0.22">NEIL-RIP3</text>
<line x1="198.70" y1="391.90" x2="198.70" y2="492.90" stroke="#231f20" stroke-width="1.3"/>
<line x1="198.10" y1="491.40" x2="311.60" y2="491.40" stroke="#231f20" stroke-width="1.2"/>
<line x1="254.60" y1="491.40" x2="254.60" y2="494.00" stroke="#231f20" stroke-width="0.8"/>
<line x1="196.10" y1="491.40" x2="198.70" y2="491.40" stroke="#231f20" stroke-width="0.9"/>
<text x="193.20" y="493.90" font-size="7.4" text-anchor="end" fill="#231f20" stroke="#231f20" stroke-width="0.22">0.0</text>
<line x1="196.10" y1="471.60" x2="198.70" y2="471.60" stroke="#231f20" stroke-width="0.9"/>
<text x="193.20" y="474.10" font-size="7.4" text-anchor="end" fill="#231f20" stroke="#231f20" stroke-width="0.22">0.5</text>
<line x1="196.10" y1="451.80" x2="198.70" y2="451.80" stroke="#231f20" stroke-width="0.9"/>
<text x="193.20" y="454.30" font-size="7.4" text-anchor="end" fill="#231f20" stroke="#231f20" stroke-width="0.22">1.0</text>
<line x1="196.10" y1="432.00" x2="198.70" y2="432.00" stroke="#231f20" stroke-width="0.9"/>
<text x="193.20" y="434.50" font-size="7.4" text-anchor="end" fill="#231f20" stroke="#231f20" stroke-width="0.22">1.5</text>
<line x1="196.10" y1="412.20" x2="198.70" y2="412.20" stroke="#231f20" stroke-width="0.9"/>
<text x="193.20" y="414.70" font-size="7.4" text-anchor="end" fill="#231f20" stroke="#231f20" stroke-width="0.22">2.0</text>
<line x1="196.10" y1="392.40" x2="198.70" y2="392.40" stroke="#231f20" stroke-width="0.9"/>
<text x="193.20" y="394.90" font-size="7.4" text-anchor="end" fill="#231f20" stroke="#231f20" stroke-width="0.22">2.5</text>
<text x="176.10" y="481.46" font-size="8.9" textLength="81.42" lengthAdjust="spacingAndGlyphs" fill="#231f20" stroke="#231f20" stroke-width="0.22" transform="rotate(-90 176.10 481.46)">Relative enrichment</text>
<rect x="211.20" y="451.80" width="15.30" height="39.20" fill="#a8002c"/>
<line x1="234.45" y1="426.06" x2="234.45" y2="412.99" stroke="#231f20" stroke-width="0.95"/>
<line x1="232.35" y1="412.99" x2="236.55" y2="412.99" stroke="#231f20" stroke-width="1.15"/>
<rect x="226.50" y="426.06" width="15.90" height="64.94" fill="#2c4d82"/>
<rect x="267.30" y="451.01" width="15.20" height="39.99" fill="#a8002c"/>
<line x1="290.50" y1="407.84" x2="290.50" y2="400.32" stroke="#231f20" stroke-width="0.95"/>
<line x1="288.40" y1="400.32" x2="292.60" y2="400.32" stroke="#231f20" stroke-width="1.15"/>
<rect x="282.50" y="407.84" width="16.00" height="83.16" fill="#2c4d82"/>
<rect x="204.60" y="390.00" width="4.30" height="3.90" fill="#a8002c"/>
<text x="210.95" y="394.40" font-size="7.4" textLength="30.59" lengthAdjust="spacingAndGlyphs" fill="#231f20" stroke="#231f20" stroke-width="0.22">U266 IgG</text>
<rect x="204.60" y="401.60" width="4.30" height="4.00" fill="#2c4d82"/>
<text x="210.98" y="406.20" font-size="7.4" textLength="40.65" lengthAdjust="spacingAndGlyphs" fill="#231f20" stroke="#231f20" stroke-width="0.22">U266 ADAR1</text>
<text x="210.24" y="501.20" font-size="7.6" textLength="32.60" lengthAdjust="spacingAndGlyphs" fill="#231f20" stroke="#231f20" stroke-width="0.22">NEIL-RIP2</text>
<text x="266.45" y="501.20" font-size="7.6" textLength="32.04" lengthAdjust="spacingAndGlyphs" fill="#231f20" stroke="#231f20" stroke-width="0.22">NEIL-RIP3</text>
<line x1="353.50" y1="387.58" x2="353.50" y2="492.90" stroke="#231f20" stroke-width="1.3"/>
<line x1="352.90" y1="491.40" x2="479.80" y2="491.40" stroke="#231f20" stroke-width="1.2"/>
<line x1="420.40" y1="491.40" x2="420.40" y2="494.00" stroke="#231f20" stroke-width="0.8"/>
<line x1="350.90" y1="491.40" x2="353.50" y2="491.40" stroke="#231f20" stroke-width="0.9"/>
<text x="346.70" y="493.90" font-size="7.4" text-anchor="end" fill="#231f20" stroke="#231f20" stroke-width="0.22">0</text>
<line x1="350.90" y1="479.92" x2="353.50" y2="479.92" stroke="#231f20" stroke-width="0.9"/>
<text x="346.70" y="482.42" font-size="7.4" text-anchor="end" fill="#231f20" stroke="#231f20" stroke-width="0.22">0.5</text>
<line x1="350.90" y1="468.44" x2="353.50" y2="468.44" stroke="#231f20" stroke-width="0.9"/>
<text x="346.70" y="470.94" font-size="7.4" text-anchor="end" fill="#231f20" stroke="#231f20" stroke-width="0.22">1</text>
<line x1="350.90" y1="456.96" x2="353.50" y2="456.96" stroke="#231f20" stroke-width="0.9"/>
<text x="346.70" y="459.46" font-size="7.4" text-anchor="end" fill="#231f20" stroke="#231f20" stroke-width="0.22">1.5</text>
<line x1="350.90" y1="445.48" x2="353.50" y2="445.48" stroke="#231f20" stroke-width="0.9"/>
<text x="346.70" y="447.98" font-size="7.4" text-anchor="end" fill="#231f20" stroke="#231f20" stroke-width="0.22">2</text>
<line x1="350.90" y1="434.00" x2="353.50" y2="434.00" stroke="#231f20" stroke-width="0.9"/>
<text x="346.70" y="436.50" font-size="7.4" text-anchor="end" fill="#231f20" stroke="#231f20" stroke-width="0.22">2.5</text>
<line x1="350.90" y1="422.52" x2="353.50" y2="422.52" stroke="#231f20" stroke-width="0.9"/>
<text x="346.70" y="425.02" font-size="7.4" text-anchor="end" fill="#231f20" stroke="#231f20" stroke-width="0.22">3</text>
<line x1="350.90" y1="411.04" x2="353.50" y2="411.04" stroke="#231f20" stroke-width="0.9"/>
<text x="346.70" y="413.54" font-size="7.4" text-anchor="end" fill="#231f20" stroke="#231f20" stroke-width="0.22">3.5</text>
<line x1="350.90" y1="399.56" x2="353.50" y2="399.56" stroke="#231f20" stroke-width="0.9"/>
<text x="346.70" y="402.06" font-size="7.4" text-anchor="end" fill="#231f20" stroke="#231f20" stroke-width="0.22">4</text>
<line x1="350.90" y1="388.08" x2="353.50" y2="388.08" stroke="#231f20" stroke-width="0.9"/>
<text x="346.70" y="390.58" font-size="7.4" text-anchor="end" fill="#231f20" stroke="#231f20" stroke-width="0.22">4.5</text>
<text x="329.90" y="479.66" font-size="8.9" textLength="81.42" lengthAdjust="spacingAndGlyphs" fill="#231f20" stroke="#231f20" stroke-width="0.22" transform="rotate(-90 329.90 479.66)">Relative enrichment</text>
<line x1="373.25" y1="468.44" x2="373.25" y2="468.44" stroke="#231f20" stroke-width="0.95"/>
<line x1="371.75" y1="468.44" x2="374.75" y2="468.44" stroke="#231f20" stroke-width="1.15"/>
<rect x="366.70" y="468.44" width="13.10" height="22.56" fill="#66ad3e"/>
<line x1="388.90" y1="409.89" x2="388.90" y2="407.60" stroke="#231f20" stroke-width="0.95"/>
<line x1="386.80" y1="407.60" x2="391.00" y2="407.60" stroke="#231f20" stroke-width="1.15"/>
<rect x="382.60" y="409.89" width="12.60" height="81.11" fill="#52235f"/>
<line x1="404.75" y1="404.84" x2="404.75" y2="397.72" stroke="#231f20" stroke-width="0.95"/>
<line x1="402.65" y1="397.72" x2="406.85" y2="397.72" stroke="#231f20" stroke-width="1.15"/>
<rect x="398.40" y="404.84" width="12.70" height="86.16" fill="#df8b1c"/>
<line x1="435.35" y1="468.90" x2="435.35" y2="468.67" stroke="#231f20" stroke-width="0.95"/>
<line x1="433.85" y1="468.67" x2="436.85" y2="468.67" stroke="#231f20" stroke-width="1.15"/>
<rect x="429.00" y="468.90" width="12.70" height="22.10" fill="#2c4d82"/>
<line x1="451.05" y1="484.51" x2="451.05" y2="482.22" stroke="#231f20" stroke-width="0.95"/>
<line x1="448.95" y1="482.22" x2="453.15" y2="482.22" stroke="#231f20" stroke-width="1.15"/>
<rect x="444.50" y="484.51" width="13.10" height="6.49" fill="#a8002c"/>
<line x1="466.90" y1="479.92" x2="466.90" y2="478.31" stroke="#231f20" stroke-width="0.95"/>
<line x1="464.80" y1="478.31" x2="469.00" y2="478.31" stroke="#231f20" stroke-width="1.15"/>
<rect x="460.30" y="479.92" width="13.20" height="11.08" fill="#d4918a"/>
<rect x="428.50" y="396.90" width="3.90" height="3.90" fill="#66ad3e"/>
<text x="435.49" y="400.80" font-size="7.4" textLength="8.34" lengthAdjust="spacingAndGlyphs" fill="#231f20" stroke="#231f20" stroke-width="0.22">EV</text>
<rect x="428.50" y="406.00" width="3.90" height="3.90" fill="#52235f"/>
<text x="435.99" y="409.90" font-size="7.4" textLength="34.26" lengthAdjust="spacingAndGlyphs" fill="#231f20" stroke="#231f20" stroke-width="0.22">ADAR1-WT</text>
<rect x="428.50" y="414.60" width="3.90" height="3.90" fill="#df8b1c"/>
<text x="435.99" y="418.50" font-size="7.4" textLength="47.17" lengthAdjust="spacingAndGlyphs" fill="#231f20" stroke="#231f20" stroke-width="0.22">ADAR1-Mutant</text>
<rect x="428.50" y="431.90" width="3.90" height="3.90" fill="#2c4d82"/>
<text x="435.79" y="435.80" font-size="7.4" textLength="18.24" lengthAdjust="spacingAndGlyphs" fill="#231f20" stroke="#231f20" stroke-width="0.22">shCtr</text>
<rect x="428.50" y="441.00" width="3.90" height="3.90" fill="#a8002c"/>
<text x="435.81" y="444.90" font-size="7.4" textLength="38.61" lengthAdjust="spacingAndGlyphs" fill="#231f20" stroke="#231f20" stroke-width="0.22">shADAR1 #1</text>
<rect x="428.50" y="449.60" width="3.90" height="3.90" fill="#d4918a"/>
<text x="435.81" y="453.50" font-size="7.4" textLength="38.98" lengthAdjust="spacingAndGlyphs" fill="#231f20" stroke="#231f20" stroke-width="0.22">shADAR1 #3</text>
<text x="373.27" y="500.40" font-size="7.6" textLength="21.01" lengthAdjust="spacingAndGlyphs" fill="#231f20" stroke="#231f20" stroke-width="0.22">MM1s</text>
<text x="444.41" y="500.40" font-size="7.6" textLength="18.22" lengthAdjust="spacingAndGlyphs" fill="#231f20" stroke="#231f20" stroke-width="0.22">U266</text>
<text x="10.59" y="530.80" font-size="11.6" textLength="4.92" lengthAdjust="spacingAndGlyphs" fill="#231f20" stroke="#231f20" stroke-width="0.22">E</text>
<ellipse cx="149.6" cy="586.0" rx="114.2" ry="51.4" fill="#ce8e82"/>
<ellipse cx="149.2" cy="599.4" rx="95.0" ry="45.9" fill="#b7544f"/>
<ellipse cx="151.9" cy="618.1" rx="42.8" ry="25.1" fill="#a5002a"/>
<text x="118.65" y="549.80" font-size="8.0" textLength="67.17" lengthAdjust="spacingAndGlyphs" fill="#fff6f6" stroke="#fff6f6" stroke-width="0.22">CoMMpass ( N = 730)</text>
<text x="114.03" y="564.60" font-size="8.0" textLength="76.08" lengthAdjust="spacingAndGlyphs" fill="#fff6f6" stroke="#fff6f6" stroke-width="0.22">NEIL1 editing across the</text>
<text x="131.21" y="573.60" font-size="8.0" textLength="41.70" lengthAdjust="spacingAndGlyphs" fill="#fff6f6" stroke="#fff6f6" stroke-width="0.22">whole mRNA</text>
<text x="139.63" y="582.20" font-size="8.0" textLength="24.47" lengthAdjust="spacingAndGlyphs" fill="#fff6f6" stroke="#fff6f6" stroke-width="0.22">N = 624</text>
<text x="134.19" y="590.90" font-size="8.0" textLength="35.78" lengthAdjust="spacingAndGlyphs" fill="#fff6f6" stroke="#fff6f6" stroke-width="0.22">85% of 730</text>
<text x="131.56" y="607.00" font-size="8.0" textLength="40.84" lengthAdjust="spacingAndGlyphs" fill="#fbe6e9" stroke="#fbe6e9" stroke-width="0.22">NEIL1 A726G</text>
<text x="139.43" y="616.00" font-size="8.0" textLength="24.68" lengthAdjust="spacingAndGlyphs" fill="#fbe6e9" stroke="#fbe6e9" stroke-width="0.22">N = 503</text>
<text x="131.81" y="624.70" font-size="8.0" textLength="39.89" lengthAdjust="spacingAndGlyphs" fill="#fbe6e9" stroke="#fbe6e9" stroke-width="0.22">80.6% of 624</text>
<text x="131.76" y="634.00" font-size="8.0" textLength="40.01" lengthAdjust="spacingAndGlyphs" fill="#fbe6e9" stroke="#fbe6e9" stroke-width="0.22">68.9% of 730</text>
<text x="282.58" y="530.80" font-size="11.6" textLength="4.62" lengthAdjust="spacingAndGlyphs" fill="#231f20" stroke="#231f20" stroke-width="0.22">F</text>
<line x1="319.00" y1="543.50" x2="319.00" y2="646.50" stroke="#3a3a3a" stroke-width="1.4"/>
<line x1="318.30" y1="646.00" x2="447.50" y2="646.00" stroke="#3a3a3a" stroke-width="1.3"/>
<line x1="316.00" y1="646.00" x2="319.00" y2="646.00" stroke="#3a3a3a" stroke-width="0.9"/>
<text x="312.90" y="648.50" font-size="7.2" text-anchor="end" fill="#231f20" stroke="#231f20" stroke-width="0.22">0.0</text>
<line x1="316.00" y1="612.00" x2="319.00" y2="612.00" stroke="#3a3a3a" stroke-width="0.9"/>
<text x="312.90" y="614.50" font-size="7.2" text-anchor="end" fill="#231f20" stroke="#231f20" stroke-width="0.22">0.5</text>
<line x1="316.00" y1="578.00" x2="319.00" y2="578.00" stroke="#3a3a3a" stroke-width="0.9"/>
<text x="312.90" y="580.50" font-size="7.2" text-anchor="end" fill="#231f20" stroke="#231f20" stroke-width="0.22">1.0</text>
<line x1="316.00" y1="544.00" x2="319.00" y2="544.00" stroke="#3a3a3a" stroke-width="0.9"/>
<text x="312.90" y="546.50" font-size="7.2" text-anchor="end" fill="#231f20" stroke="#231f20" stroke-width="0.22">1.5</text>
<line x1="335.00" y1="646.00" x2="335.00" y2="648.40" stroke="#3a3a3a" stroke-width="0.9"/>
<line x1="367.00" y1="646.00" x2="367.00" y2="648.40" stroke="#3a3a3a" stroke-width="0.9"/>
<line x1="399.20" y1="646.00" x2="399.20" y2="648.40" stroke="#3a3a3a" stroke-width="0.9"/>
<line x1="431.20" y1="646.00" x2="431.20" y2="648.40" stroke="#3a3a3a" stroke-width="0.9"/>
<text x="296.10" y="629.96" font-size="8.9" textLength="71.98" lengthAdjust="spacingAndGlyphs" fill="#231f20" stroke="#231f20" stroke-width="0.22" transform="rotate(-90 296.10 629.96)">Editing frequency</text>
<text x="345.20" y="540.50" font-size="7.6" textLength="86.06" lengthAdjust="spacingAndGlyphs" fill="#231f20" stroke="#231f20" stroke-width="0.22">NEIL1 editing (Lys242Arg)</text>
<text x="329.90" y="659.30" font-size="7.6" textLength="10.13" lengthAdjust="spacingAndGlyphs" fill="#231f20" stroke="#231f20" stroke-width="0.22">HV</text>
<text x="356.41" y="659.30" font-size="7.6" textLength="21.41" lengthAdjust="spacingAndGlyphs" fill="#231f20" stroke="#231f20" stroke-width="0.22">MGUS</text>
<text x="393.88" y="659.30" font-size="7.6" textLength="10.99" lengthAdjust="spacingAndGlyphs" fill="#231f20" stroke="#231f20" stroke-width="0.22">ND</text>
<text x="414.88" y="659.30" font-size="7.6" textLength="31.91" lengthAdjust="spacingAndGlyphs" fill="#231f20" stroke="#231f20" stroke-width="0.22">Relapsed</text>
<polyline points="336.8,572.8 336.8,553.1 432.6,553.1 432.6,566.4" fill="none" stroke="#4a4a4a" stroke-width="1.1"/>
<polyline points="336.8,560.5 401.5,560.5 401.5,573.8" fill="none" stroke="#4a4a4a" stroke-width="1.1"/>
<text x="383.37" y="551.60" font-size="7.0" textLength="9.15" lengthAdjust="spacingAndGlyphs" fill="#231f20" stroke="#231f20" stroke-width="0.22">***</text>
<text x="370.68" y="560.20" font-size="7.0" textLength="5.84" lengthAdjust="spacingAndGlyphs" fill="#231f20" stroke="#231f20" stroke-width="0.22">**</text>
<line x1="326.20" y1="602.10" x2="347.90" y2="602.10" stroke="#2e2e2e" stroke-width="1.2"/>
<line x1="337.05" y1="602.10" x2="337.05" y2="594.00" stroke="#2e2e2e" stroke-width="1.1"/>
<line x1="331.10" y1="594.00" x2="343.00" y2="594.00" stroke="#2e2e2e" stroke-width="1.1"/>
<line x1="356.50" y1="599.20" x2="378.30" y2="599.20" stroke="#2e2e2e" stroke-width="1.2"/>
<line x1="367.40" y1="599.20" x2="367.40" y2="595.00" stroke="#2e2e2e" stroke-width="1.1"/>
<line x1="361.50" y1="595.00" x2="373.30" y2="595.00" stroke="#2e2e2e" stroke-width="1.1"/>
<line x1="387.30" y1="588.20" x2="409.10" y2="588.20" stroke="#2e2e2e" stroke-width="1.2"/>
<line x1="398.20" y1="588.20" x2="398.20" y2="584.40" stroke="#2e2e2e" stroke-width="1.1"/>
<line x1="392.10" y1="584.40" x2="404.30" y2="584.40" stroke="#2e2e2e" stroke-width="1.1"/>
<line x1="418.10" y1="582.30" x2="439.90" y2="582.30" stroke="#2e2e2e" stroke-width="1.2"/>
<line x1="429.00" y1="582.30" x2="429.00" y2="580.80" stroke="#2e2e2e" stroke-width="1.1"/>
<line x1="424.00" y1="580.80" x2="434.00" y2="580.80" stroke="#2e2e2e" stroke-width="1.1"/>
<circle cx="332.10" cy="586.70" r="2.15" fill="#a8002c"/>
<circle cx="337.00" cy="586.70" r="2.15" fill="#a8002c"/>
<circle cx="337.00" cy="594.60" r="2.15" fill="#a8002c"/>
<circle cx="337.00" cy="618.10" r="2.15" fill="#a8002c"/>
<circle cx="337.00" cy="624.80" r="2.15" fill="#a8002c"/>
<circle cx="367.50" cy="595.00" r="2.15" fill="#2c4d82"/>
<circle cx="367.50" cy="602.30" r="2.15" fill="#2c4d82"/>
<circle cx="398.20" cy="580.80" r="2.15" fill="#66ad3e"/>
<circle cx="403.30" cy="578.40" r="2.15" fill="#66ad3e"/>
<circle cx="398.20" cy="591.00" r="2.15" fill="#66ad3e"/>
<circle cx="403.30" cy="592.50" r="2.15" fill="#66ad3e"/>
<circle cx="398.20" cy="598.30" r="2.15" fill="#66ad3e"/>
<circle cx="428.80" cy="578.10" r="2.15" fill="#52235f"/>
<circle cx="424.00" cy="583.10" r="2.15" fill="#52235f"/>
<circle cx="431.50" cy="580.40" r="2.15" fill="#52235f"/>
<circle cx="433.80" cy="583.80" r="2.15" fill="#52235f"/>
<circle cx="428.80" cy="586.90" r="2.15" fill="#52235f"/>
<rect x="0.8" y="0.8" width="518.4" height="666.4" fill="none" stroke="#000" stroke-width="1.6"/>
</svg>
</body></html>
